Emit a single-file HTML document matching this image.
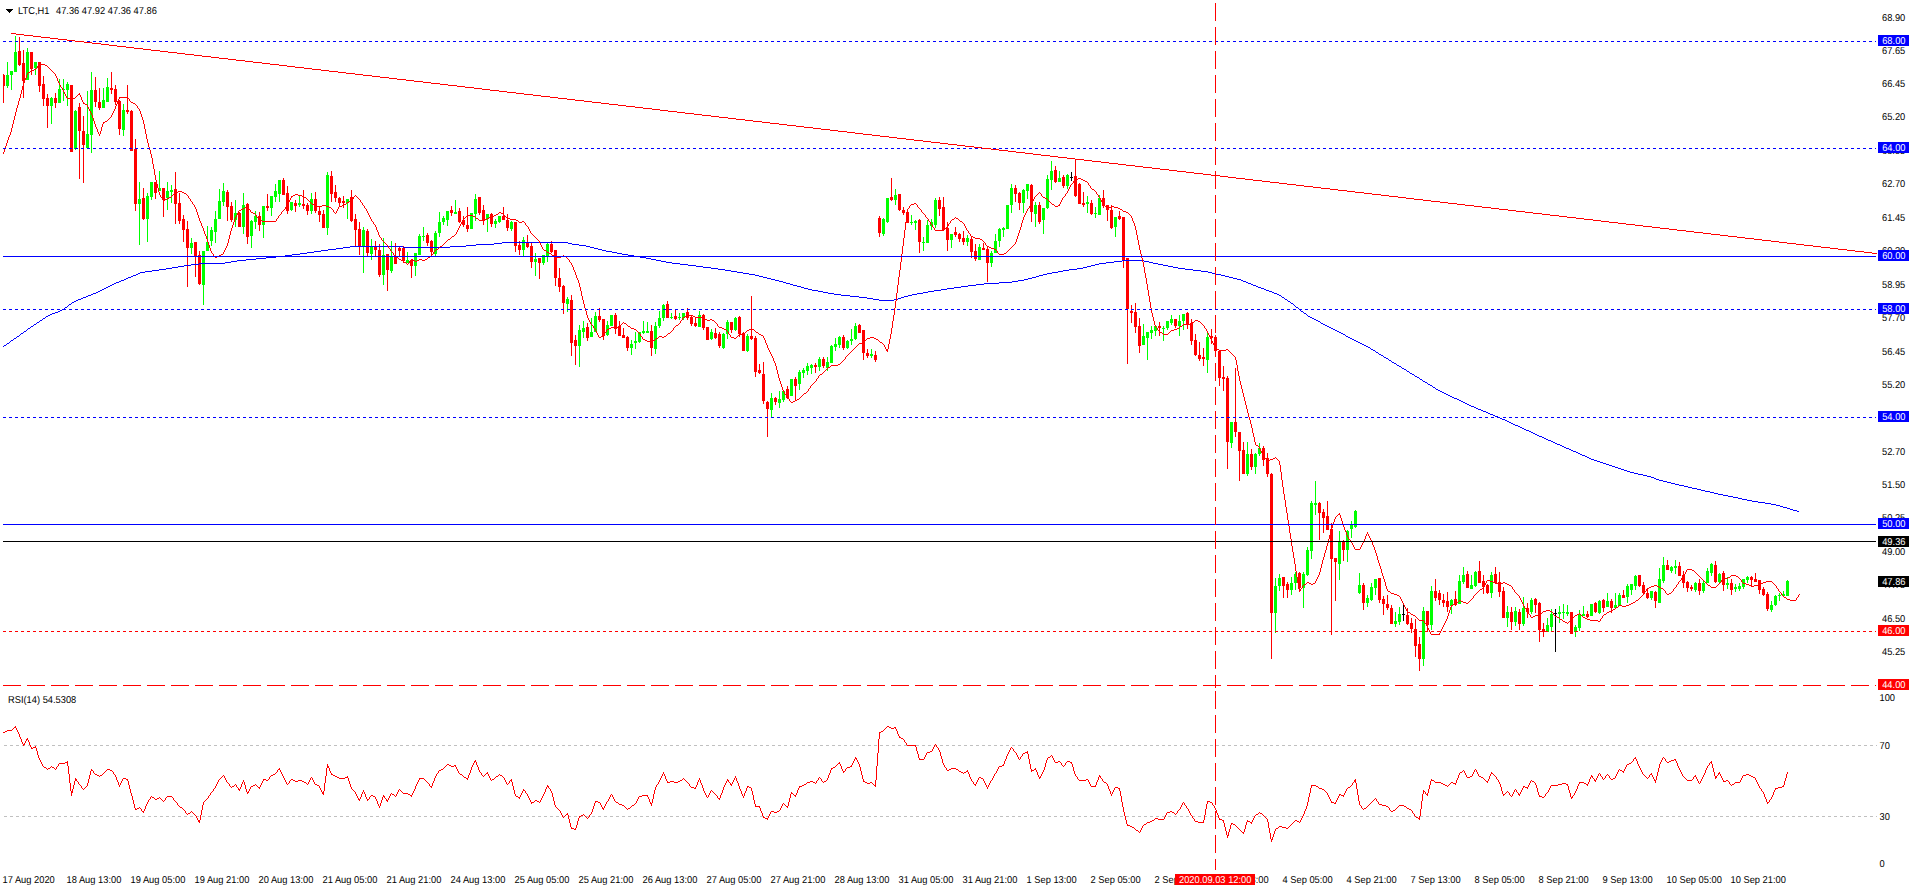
<!DOCTYPE html><html><head><meta charset="utf-8"><title>LTC,H1</title><style>
html,body{margin:0;padding:0;background:#fff;}
body{width:1916px;height:891px;overflow:hidden;position:relative;font-family:"Liberation Sans",sans-serif;}
svg{position:absolute;left:0;top:0;}
text{font-family:"Liberation Sans",sans-serif;font-size:10px;fill:#000;text-rendering:geometricPrecision;}
.w{fill:#fff;}
</style></head><body>
<svg width="1916" height="891" viewBox="0 0 1916 891">
<rect x="0" y="0" width="1916" height="891" fill="#fff"/>
<g shape-rendering="crispEdges">
<path d="M3 74h1V103h-1zM3 75h2V86h-2zM19 37h1V66h-1zM18 51h3V65h-3zM23 50h1V98h-1zM22 63h3V81h-3zM31 52h1V75h-1zM30 52h3V69h-3zM39 62h1V92h-1zM38 62h3V86h-3zM43 76h1V106h-1zM42 84h3V99h-3zM47 94h1V128h-1zM46 98h3V106h-3zM55 93h1V108h-1zM54 98h3V103h-3zM71 85h1V152h-1zM70 85h3V152h-3zM79 103h1V179h-1zM78 107h3V131h-3zM83 116h1V183h-1zM82 131h3V145h-3zM95 77h1V107h-1zM94 90h3V102h-3zM99 88h1V110h-1zM98 102h3V108h-3zM111 72h1V94h-1zM110 88h3V90h-3zM115 85h1V105h-1zM114 89h3V102h-3zM119 100h1V135h-1zM118 101h3V129h-3zM127 85h1V114h-1zM126 110h3V112h-3zM131 110h1V151h-1zM130 111h3V151h-3zM135 139h1V211h-1zM134 149h3V204h-3zM143 188h1V220h-1zM142 198h3V219h-3zM155 182h1V199h-1zM154 182h3V193h-3zM163 188h1V217h-1zM162 188h3V200h-3zM175 172h1V224h-1zM174 189h3V204h-3zM179 193h1V224h-1zM178 203h3V221h-3zM183 215h1V242h-1zM182 219h3V230h-3zM187 221h1V287h-1zM186 229h3V248h-3zM195 242h1V277h-1zM194 242h3V257h-3zM199 251h1V285h-1zM198 255h3V284h-3zM227 190h1V221h-1zM226 192h3V207h-3zM231 202h1V222h-1zM230 206h3V220h-3zM239 212h1V227h-1zM238 213h3V227h-3zM247 203h1V244h-1zM246 204h3V237h-3zM259 212h1V231h-1zM258 216h3V225h-3zM267 194h1V211h-1zM266 206h3V208h-3zM283 178h1V195h-1zM282 180h3V195h-3zM287 186h1V214h-1zM286 193h3V211h-3zM295 200h1V212h-1zM294 203h3V206h-3zM303 190h1V209h-1zM302 204h3V206h-3zM307 203h1V215h-1zM306 205h3V211h-3zM315 192h1V213h-1zM314 199h3V211h-3zM319 207h1V222h-1zM318 211h3V215h-3zM323 210h1V228h-1zM322 214h3V228h-3zM331 171h1V202h-1zM330 176h3V194h-3zM335 185h1V202h-1zM334 192h3V198h-3zM339 197h1V206h-1zM338 198h3V203h-3zM343 196h1V208h-1zM342 201h3V203h-3zM351 190h1V222h-1zM350 197h3V221h-3zM355 214h1V246h-1zM354 219h3V230h-3zM359 222h1V255h-1zM358 229h3V246h-3zM367 229h1V256h-1zM366 231h3V253h-3zM375 241h1V256h-1zM374 246h3V250h-3zM379 244h1V277h-1zM378 250h3V275h-3zM387 254h1V291h-1zM386 254h3V270h-3zM395 243h1V264h-1zM394 257h3V264h-3zM399 247h1V256h-1zM398 248h3V251h-3zM403 246h1V263h-1zM402 248h3V261h-3zM411 259h1V278h-1zM410 260h3V266h-3zM427 233h1V246h-1zM426 235h3V243h-3zM431 240h1V255h-1zM430 241h3V252h-3zM451 206h1V216h-1zM450 210h3V213h-3zM459 208h1V223h-1zM458 211h3V222h-3zM463 216h1V227h-1zM462 220h3V225h-3zM467 207h1V232h-1zM466 225h3V229h-3zM479 197h1V215h-1zM478 197h3V213h-3zM483 205h1V225h-1zM482 210h3V220h-3zM491 213h1V227h-1zM490 214h3V224h-3zM503 207h1V220h-1zM502 216h3V220h-3zM507 214h1V231h-1zM506 220h3V228h-3zM515 222h1V252h-1zM514 222h3V246h-3zM519 241h1V255h-1zM518 245h3V250h-3zM527 235h1V248h-1zM526 242h3V247h-3zM531 243h1V268h-1zM530 246h3V262h-3zM539 258h1V279h-1zM538 258h3V263h-3zM551 241h1V253h-1zM550 244h3V252h-3zM555 250h1V286h-1zM554 250h3V278h-3zM559 268h1V292h-1zM558 278h3V287h-3zM563 285h1V314h-1zM562 286h3V303h-3zM571 295h1V356h-1zM570 300h3V343h-3zM575 335h1V365h-1zM574 340h3V346h-3zM587 323h1V341h-1zM586 327h3V338h-3zM599 308h1V322h-1zM598 316h3V320h-3zM603 319h1V340h-1zM602 319h3V336h-3zM615 313h1V334h-1zM614 315h3V329h-3zM619 321h1V336h-1zM618 326h3V336h-3zM623 328h1V338h-1zM622 335h3V338h-3zM627 336h1V351h-1zM626 337h3V348h-3zM651 325h1V356h-1zM650 331h3V348h-3zM667 301h1V318h-1zM666 304h3V318h-3zM675 310h1V320h-1zM674 316h3V319h-3zM687 308h1V320h-1zM686 312h3V318h-3zM691 316h1V326h-1zM690 317h3V324h-3zM695 318h1V327h-1zM694 323h3V326h-3zM703 314h1V330h-1zM702 315h3V328h-3zM707 327h1V340h-1zM706 327h3V340h-3zM715 328h1V339h-1zM714 333h3V338h-3zM719 332h1V348h-1zM718 334h3V346h-3zM731 322h1V333h-1zM730 322h3V330h-3zM739 316h1V337h-1zM738 317h3V334h-3zM743 332h1V351h-1zM742 333h3V351h-3zM751 296h1V340h-1zM750 336h3V339h-3zM755 336h1V377h-1zM754 338h3V372h-3zM759 364h1V374h-1zM758 370h3V373h-3zM763 362h1V404h-1zM762 374h3V401h-3zM767 401h1V437h-1zM766 402h3V409h-3zM775 397h1V405h-1zM774 398h3V402h-3zM787 386h1V399h-1zM786 389h3V398h-3zM795 377h1V401h-1zM794 379h3V386h-3zM815 363h1V373h-1zM814 365h3V367h-3zM823 357h1V368h-1zM822 359h3V366h-3zM843 335h1V350h-1zM842 337h3V348h-3zM859 324h1V333h-1zM858 325h3V333h-3zM863 330h1V360h-1zM862 330h3V353h-3zM867 349h1V358h-1zM866 353h3V356h-3zM875 351h1V362h-1zM874 355h3V360h-3zM879 216h1V237h-1zM878 218h3V233h-3zM891 178h1V201h-1zM890 197h3V200h-3zM899 194h1V211h-1zM898 194h3V210h-3zM903 207h1V215h-1zM902 210h3V213h-3zM907 212h1V223h-1zM906 212h3V223h-3zM919 219h1V253h-1zM918 220h3V242h-3zM939 197h1V216h-1zM938 200h3V209h-3zM943 197h1V230h-1zM942 207h3V230h-3zM947 222h1V251h-1zM946 228h3V240h-3zM955 227h1V237h-1zM954 232h3V235h-3zM959 233h1V242h-1zM958 234h3V239h-3zM963 231h1V245h-1zM962 238h3V242h-3zM971 237h1V258h-1zM970 239h3V252h-3zM975 244h1V261h-1zM974 251h3V259h-3zM983 243h1V250h-1zM982 248h3V250h-3zM987 246h1V282h-1zM986 249h3V263h-3zM1015 185h1V202h-1zM1014 188h3V194h-3zM1019 192h1V210h-1zM1018 193h3V203h-3zM1031 184h1V222h-1zM1030 185h3V212h-3zM1039 202h1V224h-1zM1038 205h3V222h-3zM1055 166h1V183h-1zM1054 170h3V182h-3zM1063 175h1V188h-1zM1062 177h3V186h-3zM1075 159h1V197h-1zM1074 176h3V196h-3zM1079 183h1V204h-1zM1078 184h3V204h-3zM1083 192h1V207h-1zM1082 203h3V205h-3zM1091 200h1V215h-1zM1090 203h3V214h-3zM1103 190h1V208h-1zM1102 198h3V206h-3zM1107 205h1V221h-1zM1106 205h3V210h-3zM1111 205h1V229h-1zM1110 210h3V228h-3zM1119 211h1V220h-1zM1118 216h3V219h-3zM1123 217h1V268h-1zM1122 217h3V260h-3zM1127 258h1V364h-1zM1126 258h3V309h-3zM1131 305h1V323h-1zM1130 311h3V313h-3zM1135 303h1V333h-1zM1134 312h3V327h-3zM1139 318h1V353h-1zM1138 326h3V346h-3zM1159 322h1V336h-1zM1158 326h3V328h-3zM1175 319h1V328h-1zM1174 319h3V326h-3zM1187 312h1V329h-1zM1186 313h3V325h-3zM1191 319h1V345h-1zM1190 323h3V341h-3zM1195 334h1V356h-1zM1194 340h3V355h-3zM1199 342h1V361h-1zM1198 355h3V359h-3zM1203 348h1V366h-1zM1202 357h3V359h-3zM1211 329h1V344h-1zM1210 336h3V338h-3zM1215 335h1V357h-1zM1214 337h3V351h-3zM1219 350h1V386h-1zM1218 351h3V378h-3zM1223 366h1V391h-1zM1222 377h3V379h-3zM1227 376h1V469h-1zM1226 378h3V442h-3zM1235 368h1V437h-1zM1234 422h3V432h-3zM1239 432h1V481h-1zM1238 432h3V451h-3zM1243 442h1V474h-1zM1242 450h3V474h-3zM1251 449h1V470h-1zM1250 454h3V467h-3zM1263 446h1V466h-1zM1262 448h3V460h-3zM1267 453h1V477h-1zM1266 458h3V474h-3zM1271 473h1V659h-1zM1270 474h3V613h-3zM1283 577h1V598h-1zM1282 577h3V586h-3zM1287 582h1V598h-1zM1286 584h3V590h-3zM1299 572h1V591h-1zM1298 573h3V588h-3zM1319 502h1V540h-1zM1318 503h3V513h-3zM1323 509h1V533h-1zM1322 512h3V518h-3zM1327 501h1V530h-1zM1326 516h3V530h-3zM1331 523h1V635h-1zM1330 529h3V559h-3zM1335 558h1V601h-1zM1334 558h3V562h-3zM1343 540h1V561h-1zM1342 542h3V550h-3zM1363 583h1V610h-1zM1362 585h3V603h-3zM1379 578h1V603h-1zM1378 578h3V600h-3zM1383 596h1V615h-1zM1382 599h3V604h-3zM1387 595h1V610h-1zM1386 604h3V608h-3zM1391 605h1V624h-1zM1390 608h3V624h-3zM1407 608h1V625h-1zM1406 615h3V624h-3zM1411 618h1V633h-1zM1410 623h3V629h-3zM1415 619h1V657h-1zM1414 629h3V646h-3zM1419 637h1V671h-1zM1418 644h3V659h-3zM1427 611h1V632h-1zM1426 611h3V625h-3zM1435 579h1V601h-1zM1434 591h3V598h-3zM1439 590h1V605h-1zM1438 593h3V600h-3zM1443 594h1V607h-1zM1442 600h3V603h-3zM1447 592h1V612h-1zM1446 601h3V607h-3zM1455 591h1V606h-1zM1454 599h3V605h-3zM1467 571h1V588h-1zM1466 574h3V588h-3zM1479 561h1V583h-1zM1478 571h3V583h-3zM1483 575h1V594h-1zM1482 581h3V587h-3zM1487 584h1V594h-1zM1486 585h3V593h-3zM1495 567h1V584h-1zM1494 574h3V583h-3zM1499 572h1V597h-1zM1498 582h3V592h-3zM1503 587h1V618h-1zM1502 591h3V618h-3zM1511 607h1V630h-1zM1510 612h3V622h-3zM1519 609h1V630h-1zM1518 612h3V624h-3zM1527 603h1V618h-1zM1526 608h3V612h-3zM1535 598h1V613h-1zM1534 599h3V605h-3zM1539 602h1V642h-1zM1538 603h3V630h-3zM1543 623h1V637h-1zM1542 629h3V631.5h-3zM1571 612h1V634h-1zM1570 612h3V634h-3zM1587 611h1V618h-1zM1586 614h3V617h-3zM1595 602h1V613h-1zM1594 603h3V612h-3zM1603 599h1V612h-1zM1602 600h3V608h-3zM1611 599h1V613h-1zM1610 601h3V608h-3zM1623 590h1V598h-1zM1622 595h3V598h-3zM1639 575h1V587h-1zM1638 575h3V586h-3zM1643 582h1V594h-1zM1642 585h3V593h-3zM1647 589h1V599h-1zM1646 593h3V598h-3zM1655 591h1V608h-1zM1654 592h3V601h-3zM1667 560h1V570h-1zM1666 565h3V570h-3zM1679 562h1V576h-1zM1678 566h3V576h-3zM1683 571h1V588h-1zM1682 575h3V583h-3zM1687 581h1V592h-1zM1686 582h3V588h-3zM1691 585h1V591h-1zM1690 587h3V588.5h-3zM1699 579h1V595h-1zM1698 583h3V591h-3zM1715 561h1V583h-1zM1714 565h3V582h-3zM1723 571h1V591h-1zM1722 573h3V585h-3zM1731 579h1V595h-1zM1730 583h3V590h-3zM1751 576h1V587h-1zM1750 577h3V579.5h-3zM1755 573h1V582h-1zM1754 579h3V581.5h-3zM1759 580h1V594h-1zM1758 580h3V590h-3zM1763 587h1V596h-1zM1762 589h3V595h-3zM1767 592h1V611h-1zM1766 594h3V609h-3z" fill="#ff0000"/>
<path d="M7 62h1V88h-1zM6 75h3V86h-3zM11 71h1V90h-1zM10 71h3V75h-3zM15 36h1V72h-1zM14 52h3V72h-3zM27 48h1V80h-1zM26 52h3V80h-3zM35 62h1V75h-1zM34 62h3V68h-3zM51 97h1V124h-1zM50 98h3V106h-3zM59 79h1V103h-1zM58 89h3V103h-3zM63 79h1V101h-1zM62 89h3V90h-3zM67 82h1V106h-1zM66 84h3V90h-3zM75 110h1V150h-1zM74 111h3V149h-3zM87 91h1V149h-1zM86 134h3V148h-3zM91 72h1V153h-1zM90 90h3V135h-3zM103 88h1V108h-1zM102 100h3V108h-3zM107 78h1V102h-1zM106 87h3V102h-3zM123 104h1V136h-1zM122 110h3V130h-3zM139 182h1V245h-1zM138 199h3V204h-3zM147 193h1V242h-1zM146 196h3V219h-3zM151 182h1V200h-1zM150 182h3V197h-3zM159 171h1V191h-1zM158 188h3V191h-3zM167 182h1V210h-1zM166 191h3V198h-3zM171 185h1V203h-1zM170 190h3V192h-3zM191 238h1V254h-1zM190 243h3V248h-3zM203 251h1V305h-1zM202 251h3V285h-3zM207 226h1V251h-1zM206 242h3V251h-3zM211 227h1V246h-1zM210 230h3V241h-3zM215 211h1V243h-1zM214 219h3V232h-3zM219 189h1V219h-1zM218 201h3V219h-3zM223 183h1V206h-1zM222 191h3V202h-3zM235 200h1V227h-1zM234 213h3V220h-3zM243 193h1V234h-1zM242 205h3V227h-3zM251 220h1V248h-1zM250 221h3V236h-3zM255 211h1V229h-1zM254 216h3V222h-3zM263 206h1V238h-1zM262 206h3V225h-3zM271 196h1V216h-1zM270 196h3V208h-3zM275 184h1V202h-1zM274 191h3V197h-3zM279 180h1V202h-1zM278 180h3V194h-3zM291 202h1V211h-1zM290 202h3V210h-3zM299 195h1V207h-1zM298 203h3V205h-3zM311 193h1V214h-1zM310 199h3V211h-3zM327 172h1V235h-1zM326 175h3V228h-3zM347 199h1V219h-1zM346 199h3V203h-3zM363 227h1V273h-1zM362 230h3V246h-3zM371 239h1V260h-1zM370 246h3V254h-3zM383 238h1V285h-1zM382 255h3V275h-3zM391 241h1V273h-1zM390 257h3V271h-3zM407 252h1V263h-1zM406 260h3V263h-3zM415 253h1V276h-1zM414 253h3V266h-3zM419 234h1V255h-1zM418 236h3V255h-3zM423 227h1V241h-1zM422 236h3V237h-3zM435 231h1V256h-1zM434 233h3V254h-3zM439 212h1V237h-1zM438 222h3V233h-3zM443 216h1V225h-1zM442 218h3V222h-3zM447 211h1V226h-1zM446 211h3V220h-3zM455 200h1V214h-1zM454 212h3V214h-3zM471 213h1V229h-1zM470 213h3V229h-3zM475 194h1V221h-1zM474 199h3V214h-3zM487 214h1V232h-1zM486 214h3V219h-3zM495 219h1V228h-1zM494 221h3V224h-3zM499 216h1V223h-1zM498 216h3V222h-3zM511 221h1V231h-1zM510 222h3V229h-3zM523 237h1V256h-1zM522 240h3V250h-3zM535 253h1V276h-1zM534 259h3V262h-3zM543 255h1V265h-1zM542 255h3V263h-3zM547 243h1V262h-1zM546 244h3V256h-3zM567 297h1V312h-1zM566 299h3V304h-3zM579 325h1V367h-1zM578 330h3V346h-3zM583 321h1V338h-1zM582 328h3V332h-3zM591 318h1V337h-1zM590 332h3V337h-3zM595 312h1V332h-1zM594 316h3V332h-3zM607 321h1V336h-1zM606 325h3V335h-3zM611 315h1V326h-1zM610 315h3V326h-3zM631 340h1V355h-1zM630 344h3V348h-3zM635 332h1V349h-1zM634 341h3V343h-3zM639 332h1V343h-1zM638 332h3V342h-3zM643 321h1V334h-1zM642 331h3V333h-3zM647 322h1V333h-1zM646 331h3V333h-3zM655 322h1V354h-1zM654 326h3V349h-3zM659 311h1V328h-1zM658 318h3V326h-3zM663 304h1V321h-1zM662 305h3V318h-3zM671 313h1V319h-1zM670 317h3V318h-3zM679 313h1V320h-1zM678 317h3V318h-3zM683 313h1V320h-1zM682 313h3V318h-3zM699 311h1V327h-1zM698 315h3V327h-3zM711 329h1V340h-1zM710 332h3V339h-3zM723 333h1V349h-1zM722 334h3V348h-3zM727 320h1V339h-1zM726 322h3V334h-3zM735 317h1V331h-1zM734 318h3V330h-3zM747 334h1V352h-1zM746 336h3V351h-3zM771 393h1V417h-1zM770 398h3V410h-3zM779 391h1V408h-1zM778 399h3V403h-3zM783 390h1V402h-1zM782 391h3V400h-3zM791 379h1V396h-1zM790 379h3V396h-3zM799 370h1V390h-1zM798 372h3V384h-3zM803 368h1V378h-1zM802 370h3V373h-3zM807 363h1V375h-1zM806 366h3V371h-3zM811 364h1V374h-1zM810 365h3V368h-3zM819 357h1V371h-1zM818 359h3V367h-3zM827 357h1V371h-1zM826 362h3V368h-3zM831 345h1V363h-1zM830 346h3V363h-3zM835 338h1V351h-1zM834 344h3V347h-3zM839 336h1V348h-1zM838 337h3V345h-3zM847 340h1V349h-1zM846 341h3V348h-3zM851 329h1V345h-1zM850 339h3V341h-3zM855 323h1V340h-1zM854 326h3V339h-3zM871 349h1V358h-1zM870 354h3V356h-3zM883 218h1V236h-1zM882 219h3V234h-3zM887 198h1V223h-1zM886 198h3V222h-3zM895 189h1V205h-1zM894 195h3V200h-3zM911 215h1V225h-1zM910 222h3V223h-3zM915 220h1V230h-1zM914 221h3V223h-3zM923 237h1V251h-1zM922 242h3V243h-3zM927 220h1V243h-1zM926 225h3V243h-3zM931 219h1V230h-1zM930 222h3V226h-3zM935 198h1V228h-1zM934 200h3V225h-3zM951 234h1V248h-1zM950 234h3V240h-3zM967 235h1V246h-1zM966 238h3V242h-3zM979 244h1V260h-1zM978 247h3V260h-3zM991 251h1V267h-1zM990 253h3V263h-3zM995 234h1V253h-1zM994 241h3V253h-3zM999 228h1V247h-1zM998 229h3V241h-3zM1003 227h1V237h-1zM1002 228h3V230h-3zM1007 205h1V229h-1zM1006 205h3V229h-3zM1011 184h1V213h-1zM1010 188h3V205h-3zM1023 189h1V213h-1zM1022 190h3V203h-3zM1027 184h1V199h-1zM1026 184h3V191h-3zM1035 202h1V227h-1zM1034 205h3V214h-3zM1043 208h1V234h-1zM1042 208h3V220h-3zM1047 175h1V209h-1zM1046 179h3V208h-3zM1051 161h1V190h-1zM1050 171h3V180h-3zM1059 171h1V182h-1zM1058 178h3V182h-3zM1067 174h1V189h-1zM1066 175h3V186h-3zM1087 196h1V213h-1zM1086 202h3V204h-3zM1095 207h1V218h-1zM1094 213h3V214h-3zM1099 195h1V215h-1zM1098 198h3V215h-3zM1115 217h1V237h-1zM1114 217h3V227h-3zM1143 324h1V345h-1zM1142 336h3V345h-3zM1147 332h1V360h-1zM1146 332h3V338h-3zM1151 326h1V339h-1zM1150 330h3V333h-3zM1155 325h1V336h-1zM1154 326h3V331h-3zM1163 326h1V341h-1zM1162 328h3V329h-3zM1167 321h1V330h-1zM1166 321h3V328h-3zM1171 315h1V325h-1zM1170 319h3V323h-3zM1179 315h1V336h-1zM1178 321h3V326h-3zM1183 314h1V330h-1zM1182 314h3V321h-3zM1207 333h1V373h-1zM1206 337h3V360h-3zM1231 422h1V448h-1zM1230 422h3V443h-3zM1247 442h1V476h-1zM1246 454h3V474h-3zM1255 453h1V474h-1zM1254 454h3V467h-3zM1259 443h1V456h-1zM1258 448h3V454h-3zM1275 578h1V633h-1zM1274 586h3V613h-3zM1279 574h1V591h-1zM1278 578h3V586h-3zM1291 577h1V595h-1zM1290 583h3V590h-3zM1295 572h1V590h-1zM1294 574h3V583h-3zM1303 572h1V608h-1zM1302 574h3V588h-3zM1307 547h1V576h-1zM1306 550h3V575h-3zM1311 501h1V559h-1zM1310 503h3V551h-3zM1315 481h1V515h-1zM1314 503h3V505h-3zM1339 531h1V580h-1zM1338 542h3V564h-3zM1347 530h1V562h-1zM1346 531h3V550h-3zM1351 521h1V538h-1zM1350 524h3V529h-3zM1355 510h1V528h-1zM1354 511h3V527h-3zM1359 573h1V594h-1zM1358 585h3V593h-3zM1367 595h1V607h-1zM1366 598h3V603h-3zM1371 583h1V601h-1zM1370 587h3V600h-3zM1375 579h1V595h-1zM1374 579h3V588h-3zM1395 612h1V627h-1zM1394 621h3V624h-3zM1399 607h1V625h-1zM1398 614h3V622h-3zM1423 607h1V666h-1zM1422 611h3V659h-3zM1431 586h1V630h-1zM1430 591h3V625h-3zM1451 599h1V614h-1zM1450 600h3V606h-3zM1459 575h1V604h-1zM1458 581h3V604h-3zM1463 567h1V584h-1zM1462 575h3V582h-3zM1471 575h1V589h-1zM1470 585h3V589h-3zM1475 571h1V587h-1zM1474 572h3V586h-3zM1491 572h1V598h-1zM1490 575h3V593h-3zM1507 606h1V627h-1zM1506 612h3V618h-3zM1515 607h1V626h-1zM1514 611h3V622h-3zM1523 597h1V626h-1zM1522 608h3V624h-3zM1531 598h1V614h-1zM1530 600h3V612h-3zM1547 618h1V632h-1zM1546 625h3V631.5h-3zM1551 609h1V632h-1zM1550 614h3V627h-3zM1559 606h1V623h-1zM1558 612h3V614h-3zM1563 604h1V619h-1zM1562 611.5h3V613h-3zM1567 605h1V616h-1zM1566 612h3V614h-3zM1575 625h1V637h-1zM1574 627h3V632h-3zM1579 610h1V631h-1zM1578 614h3V628h-3zM1583 606h1V616h-1zM1582 614h3V615.5h-3zM1591 604h1V616h-1zM1590 604h3V616h-3zM1599 600h1V614h-1zM1598 601h3V613h-3zM1607 593h1V607h-1zM1606 601h3V607h-3zM1615 593h1V608h-1zM1614 605h3V608h-3zM1619 593h1V606h-1zM1618 595h3V606h-3zM1627 584h1V603h-1zM1626 586h3V597h-3zM1631 584h1V595h-1zM1630 584h3V590h-3zM1635 575h1V590h-1zM1634 576h3V586h-3zM1651 591h1V600h-1zM1650 591h3V598h-3zM1659 568h1V603h-1zM1658 579h3V603h-3zM1663 557h1V583h-1zM1662 565h3V581h-3zM1671 566h1V573h-1zM1670 567h3V571h-3zM1675 560h1V574h-1zM1674 566h3V567.5h-3zM1695 582h1V592h-1zM1694 583h3V590h-3zM1703 581h1V593h-1zM1702 583h3V591h-3zM1707 568h1V583h-1zM1706 571h3V583h-3zM1711 563h1V576h-1zM1710 564h3V573h-3zM1719 573h1V583h-1zM1718 574h3V582h-3zM1727 577h1V589h-1zM1726 583h3V585h-3zM1735 584h1V592h-1zM1734 587h3V589h-3zM1739 583h1V591h-1zM1738 586h3V589h-3zM1743 579h1V589h-1zM1742 579h3V587h-3zM1747 576h1V583h-1zM1746 577h3V580h-3zM1771 601h1V612h-1zM1770 605h3V610h-3zM1775 595h1V606h-1zM1774 596h3V605h-3zM1779 593h1V601h-1zM1778 594.5h3V596h-3zM1783 591h1V597h-1zM1782 594h3V595.5h-3zM1787 580h1V596h-1zM1786 581h3V596h-3z" fill="#00ff00"/>
<path d="M1071 172h1V181h-1zM1070 176.5h3v1h-3zM1403 604h1V621h-1zM1402 614h3v1h-3zM1555 609h1V652h-1zM1554 613h3v1h-3z" fill="#000"/>
</g>
<path d="M502 242h66v1h-66zM494 243h8v1h-8zM568 243h4v1h-4zM476 244h18v1h-18zM572 244h7v1h-7zM466 245h10v1h-10zM579 245h7v1h-7zM350 246h53v1h-53zM450 246h16v1h-16zM586 246h4v1h-4zM343 247h7v1h-7zM403 247h47v1h-47zM590 247h4v1h-4zM336 248h7v1h-7zM594 248h4v1h-4zM328 249h8v1h-8zM598 249h4v1h-4zM321 250h7v1h-7zM602 250h4v1h-4zM314 251h7v1h-7zM606 251h6v1h-6zM307 252h7v1h-7zM612 252h5v1h-5zM300 253h7v1h-7zM617 253h5v1h-5zM292 254h8v1h-8zM622 254h6v1h-6zM285 255h7v1h-7zM628 255h6v1h-6zM276 256h9v1h-9zM634 256h6v1h-6zM266 257h10v1h-10zM640 257h6v1h-6zM256 258h10v1h-10zM646 258h5v1h-5zM246 259h10v1h-10zM651 259h5v1h-5zM237 260h9v1h-9zM656 260h5v1h-5zM1122 260h22v1h-22zM231 261h6v1h-6zM661 261h5v1h-5zM1114 261h8v1h-8zM1144 261h5v1h-5zM225 262h6v1h-6zM666 262h6v1h-6zM1106 262h8v1h-8zM1149 262h4v1h-4zM199 263h26v1h-26zM672 263h8v1h-8zM1099 263h7v1h-7zM1153 263h5v1h-5zM191 264h8v1h-8zM680 264h8v1h-8zM1095 264h4v1h-4zM1158 264h5v1h-5zM184 265h7v1h-7zM688 265h8v1h-8zM1091 265h4v1h-4zM1163 265h5v1h-5zM178 266h6v1h-6zM696 266h7v1h-7zM1087 266h4v1h-4zM1168 266h5v1h-5zM172 267h6v1h-6zM703 267h8v1h-8zM1083 267h4v1h-4zM1173 267h5v1h-5zM166 268h6v1h-6zM711 268h7v1h-7zM1077 268h6v1h-6zM1178 268h7v1h-7zM159 269h7v1h-7zM718 269h7v1h-7zM1069 269h8v1h-8zM1185 269h8v1h-8zM152 270h7v1h-7zM725 270h6v1h-6zM1063 270h6v1h-6zM1193 270h8v1h-8zM145 271h7v1h-7zM731 271h6v1h-6zM1058 271h5v1h-5zM1201 271h7v1h-7zM140 272h5v1h-5zM737 272h6v1h-6zM1052 272h6v1h-6zM1208 272h4v1h-4zM138 273h2v1h-2zM743 273h6v1h-6zM1047 273h5v1h-5zM1212 273h4v1h-4zM136 274h2v1h-2zM749 274h6v1h-6zM1043 274h4v1h-4zM1216 274h5v1h-5zM133 275h3v1h-3zM755 275h4v1h-4zM1039 275h4v1h-4zM1221 275h4v1h-4zM131 276h2v1h-2zM759 276h4v1h-4zM1036 276h3v1h-3zM1225 276h4v1h-4zM128 277h3v1h-3zM763 277h4v1h-4zM1032 277h4v1h-4zM1229 277h4v1h-4zM126 278h2v1h-2zM767 278h4v1h-4zM1028 278h4v1h-4zM1233 278h4v1h-4zM124 279h2v1h-2zM771 279h4v1h-4zM1024 279h4v1h-4zM1237 279h4v1h-4zM121 280h3v1h-3zM775 280h4v1h-4zM1018 280h6v1h-6zM1241 280h2v1h-2zM119 281h2v1h-2zM779 281h4v1h-4zM1012 281h6v1h-6zM1243 281h3v1h-3zM116 282h3v1h-3zM783 282h3v1h-3zM999 282h13v1h-13zM1246 282h2v1h-2zM114 283h2v1h-2zM786 283h4v1h-4zM984 283h15v1h-15zM1248 283h3v1h-3zM112 284h2v1h-2zM790 284h3v1h-3zM976 284h8v1h-8zM1251 284h2v1h-2zM110 285h2v1h-2zM793 285h4v1h-4zM968 285h8v1h-8zM1253 285h3v1h-3zM108 286h2v1h-2zM797 286h4v1h-4zM961 286h7v1h-7zM1256 286h2v1h-2zM106 287h2v1h-2zM801 287h3v1h-3zM954 287h7v1h-7zM1258 287h3v1h-3zM104 288h2v1h-2zM804 288h4v1h-4zM947 288h7v1h-7zM1261 288h3v1h-3zM102 289h2v1h-2zM808 289h4v1h-4zM941 289h6v1h-6zM1264 289h2v1h-2zM100 290h2v1h-2zM812 290h6v1h-6zM934 290h7v1h-7zM1266 290h3v1h-3zM98 291h2v1h-2zM818 291h5v1h-5zM928 291h6v1h-6zM1269 291h3v1h-3zM96 292h2v1h-2zM823 292h5v1h-5zM923 292h5v1h-5zM1272 292h2v1h-2zM93 293h3v1h-3zM828 293h6v1h-6zM917 293h6v1h-6zM1274 293h3v1h-3zM91 294h2v1h-2zM834 294h7v1h-7zM912 294h5v1h-5zM1277 294h2v1h-2zM88 295h3v1h-3zM841 295h9v1h-9zM908 295h4v1h-4zM1279 295h2v1h-2zM86 296h2v1h-2zM850 296h9v1h-9zM904 296h4v1h-4zM1281 296h1v1h-1zM83 297h3v1h-3zM859 297h8v1h-8zM901 297h3v1h-3zM1282 297h2v1h-2zM81 298h2v1h-2zM867 298h6v1h-6zM898 298h3v1h-3zM1284 298h1v1h-1zM78 299h3v1h-3zM873 299h6v1h-6zM894 299h4v1h-4zM1285 299h2v1h-2zM76 300h2v1h-2zM879 300h15v1h-15zM1287 300h1v1h-1zM74 301h2v1h-2zM1288 301h2v1h-2zM72 302h2v1h-2zM1290 302h1v1h-1zM71 303h1v1h-1zM1291 303h2v1h-2zM69 304h2v1h-2zM1293 304h1v1h-1zM68 305h1v1h-1zM1294 305h1v1h-1zM67 306h1v1h-1zM1295 306h1v1h-1zM65 307h2v1h-2zM1296 307h2v1h-2zM64 308h1v1h-1zM1298 308h1v1h-1zM62 309h2v1h-2zM1299 309h1v1h-1zM60 310h2v1h-2zM1300 310h1v1h-1zM58 311h2v1h-2zM1301 311h2v1h-2zM55 312h3v1h-3zM1303 312h1v1h-1zM52 313h3v1h-3zM1304 313h2v1h-2zM50 314h2v1h-2zM1306 314h1v1h-1zM48 315h2v1h-2zM1307 315h1v1h-1zM46 316h2v1h-2zM1308 316h2v1h-2zM45 317h1v1h-1zM1310 317h2v1h-2zM43 318h2v1h-2zM1312 318h2v1h-2zM42 319h1v1h-1zM1314 319h2v1h-2zM40 320h2v1h-2zM1316 320h2v1h-2zM39 321h1v1h-1zM1318 321h2v1h-2zM37 322h2v1h-2zM1320 322h1v1h-1zM36 323h1v1h-1zM1321 323h2v1h-2zM34 324h2v1h-2zM1323 324h2v1h-2zM33 325h1v1h-1zM1325 325h2v1h-2zM31 326h2v1h-2zM1327 326h2v1h-2zM30 327h1v1h-1zM1329 327h2v1h-2zM28 328h2v1h-2zM1331 328h2v1h-2zM27 329h1v1h-1zM1333 329h2v1h-2zM26 330h1v1h-1zM1335 330h2v1h-2zM24 331h2v1h-2zM1337 331h2v1h-2zM23 332h1v1h-1zM1339 332h2v1h-2zM21 333h2v1h-2zM1341 333h2v1h-2zM20 334h1v1h-1zM1343 334h2v1h-2zM19 335h1v1h-1zM1345 335h1v1h-1zM17 336h2v1h-2zM1346 336h2v1h-2zM16 337h1v1h-1zM1348 337h2v1h-2zM14 338h2v1h-2zM1350 338h2v1h-2zM13 339h1v1h-1zM1352 339h2v1h-2zM11 340h2v1h-2zM1354 340h2v1h-2zM10 341h1v1h-1zM1356 341h2v1h-2zM9 342h1v1h-1zM1358 342h2v1h-2zM7 343h2v1h-2zM1360 343h2v1h-2zM6 344h1v1h-1zM1362 344h2v1h-2zM4 345h2v1h-2zM1364 345h2v1h-2zM3 346h1v1h-1zM1366 346h2v1h-2zM1368 347h2v1h-2zM1370 348h1v1h-1zM1371 349h2v1h-2zM1373 350h2v1h-2zM1375 351h1v1h-1zM1376 352h2v1h-2zM1378 353h1v1h-1zM1379 354h2v1h-2zM1381 355h2v1h-2zM1383 356h1v1h-1zM1384 357h2v1h-2zM1386 358h2v1h-2zM1388 359h1v1h-1zM1389 360h2v1h-2zM1391 361h1v1h-1zM1392 362h2v1h-2zM1394 363h2v1h-2zM1396 364h1v1h-1zM1397 365h2v1h-2zM1399 366h2v1h-2zM1401 367h1v1h-1zM1402 368h2v1h-2zM1404 369h2v1h-2zM1406 370h1v1h-1zM1407 371h2v1h-2zM1409 372h1v1h-1zM1410 373h2v1h-2zM1412 374h2v1h-2zM1414 375h1v1h-1zM1415 376h2v1h-2zM1417 377h2v1h-2zM1419 378h1v1h-1zM1420 379h2v1h-2zM1422 380h1v1h-1zM1423 381h2v1h-2zM1425 382h2v1h-2zM1427 383h1v1h-1zM1428 384h2v1h-2zM1430 385h2v1h-2zM1432 386h1v1h-1zM1433 387h2v1h-2zM1435 388h1v1h-1zM1436 389h2v1h-2zM1438 390h2v1h-2zM1440 391h2v1h-2zM1442 392h2v1h-2zM1444 393h2v1h-2zM1446 394h2v1h-2zM1448 395h2v1h-2zM1450 396h2v1h-2zM1452 397h2v1h-2zM1454 398h3v1h-3zM1457 399h2v1h-2zM1459 400h2v1h-2zM1461 401h2v1h-2zM1463 402h2v1h-2zM1465 403h2v1h-2zM1467 404h2v1h-2zM1469 405h2v1h-2zM1471 406h3v1h-3zM1474 407h2v1h-2zM1476 408h2v1h-2zM1478 409h3v1h-3zM1481 410h2v1h-2zM1483 411h3v1h-3zM1486 412h2v1h-2zM1488 413h2v1h-2zM1490 414h3v1h-3zM1493 415h2v1h-2zM1495 416h3v1h-3zM1498 417h2v1h-2zM1500 418h2v1h-2zM1502 419h3v1h-3zM1505 420h2v1h-2zM1507 421h2v1h-2zM1509 422h2v1h-2zM1511 423h2v1h-2zM1513 424h2v1h-2zM1515 425h3v1h-3zM1518 426h2v1h-2zM1520 427h2v1h-2zM1522 428h2v1h-2zM1524 429h2v1h-2zM1526 430h3v1h-3zM1529 431h2v1h-2zM1531 432h2v1h-2zM1533 433h2v1h-2zM1535 434h2v1h-2zM1537 435h2v1h-2zM1539 436h3v1h-3zM1542 437h2v1h-2zM1544 438h2v1h-2zM1546 439h2v1h-2zM1548 440h3v1h-3zM1551 441h2v1h-2zM1553 442h2v1h-2zM1555 443h2v1h-2zM1557 444h3v1h-3zM1560 445h2v1h-2zM1562 446h2v1h-2zM1564 447h2v1h-2zM1566 448h3v1h-3zM1569 449h2v1h-2zM1571 450h2v1h-2zM1573 451h3v1h-3zM1576 452h2v1h-2zM1578 453h2v1h-2zM1580 454h2v1h-2zM1582 455h3v1h-3zM1585 456h2v1h-2zM1587 457h2v1h-2zM1589 458h2v1h-2zM1591 459h3v1h-3zM1594 460h3v1h-3zM1597 461h3v1h-3zM1600 462h3v1h-3zM1603 463h3v1h-3zM1606 464h3v1h-3zM1609 465h3v1h-3zM1612 466h3v1h-3zM1615 467h3v1h-3zM1618 468h3v1h-3zM1621 469h3v1h-3zM1624 470h3v1h-3zM1627 471h3v1h-3zM1630 472h4v1h-4zM1634 473h4v1h-4zM1638 474h5v1h-5zM1643 475h4v1h-4zM1647 476h4v1h-4zM1651 477h3v1h-3zM1654 478h2v1h-2zM1656 479h3v1h-3zM1659 480h4v1h-4zM1663 481h4v1h-4zM1667 482h4v1h-4zM1671 483h4v1h-4zM1675 484h4v1h-4zM1679 485h5v1h-5zM1684 486h4v1h-4zM1688 487h4v1h-4zM1692 488h5v1h-5zM1697 489h4v1h-4zM1701 490h4v1h-4zM1705 491h5v1h-5zM1710 492h4v1h-4zM1714 493h4v1h-4zM1718 494h5v1h-5zM1723 495h5v1h-5zM1728 496h5v1h-5zM1733 497h5v1h-5zM1738 498h4v1h-4zM1742 499h5v1h-5zM1747 500h5v1h-5zM1752 501h6v1h-6zM1758 502h7v1h-7zM1765 503h6v1h-6zM1771 504h5v1h-5zM1776 505h4v1h-4zM1780 506h3v1h-3zM1783 507h4v1h-4zM1787 508h3v1h-3zM1790 509h3v1h-3zM1793 510h4v1h-4zM1797 511h2v1h-2z" fill="#0000ff" shape-rendering="crispEdges"/>
<path d="M3 152h1v2h-1zM4 149h1v3h-1zM5 146h1v3h-1zM6 143h1v3h-1zM7 140h1v3h-1zM8 137h1v3h-1zM9 135h1v2h-1zM10 132h1v3h-1zM11 128h1v4h-1zM12 124h1v4h-1zM13 120h1v4h-1zM14 116h1v4h-1zM15 112h1v4h-1zM16 108h1v4h-1zM17 105h1v3h-1zM18 101h1v4h-1zM19 98h1v3h-1zM20 94h1v4h-1zM21 90h1v4h-1zM22 86h1v4h-1zM23 83h1v3h-1zM24 80h1v3h-1zM25 78h1v2h-1zM26 75h1v3h-1zM27 73h1v2h-1zM37 66h1v2h-1zM55 74h1v2h-1zM56 76h1v2h-1zM57 78h1v3h-1zM58 81h1v2h-1zM59 83h1v2h-1zM60 85h1v2h-1zM62 88h1v2h-1zM63 90h1v2h-1zM64 92h1v2h-1zM65 94h1v2h-1zM66 96h1v2h-1zM79 93h1v2h-1zM80 95h1v2h-1zM81 97h1v3h-1zM82 100h1v2h-1zM83 102h1v2h-1zM87 105h1v2h-1zM88 107h1v2h-1zM89 109h1v2h-1zM90 111h1v2h-1zM91 113h1v2h-1zM92 115h1v3h-1zM93 118h1v3h-1zM94 121h1v3h-1zM95 124h1v3h-1zM96 127h1v2h-1zM97 129h1v3h-1zM98 132h1v2h-1zM99 134h1v2h-1zM100 131h1v3h-1zM101 127h1v4h-1zM102 124h1v3h-1zM103 122h1v2h-1zM111 115h1v2h-1zM112 113h1v2h-1zM113 111h1v2h-1zM114 109h1v2h-1zM115 106h1v3h-1zM116 104h1v2h-1zM117 101h1v3h-1zM118 99h1v2h-1zM119 97h1v2h-1zM129 99h1v2h-1zM137 106h1v2h-1zM139 109h1v2h-1zM140 111h1v3h-1zM141 114h1v3h-1zM142 117h1v3h-1zM143 120h1v4h-1zM144 124h1v5h-1zM145 129h1v5h-1zM146 134h1v5h-1zM147 139h1v4h-1zM148 143h1v4h-1zM149 147h1v3h-1zM150 150h1v4h-1zM151 154h1v4h-1zM152 158h1v6h-1zM153 164h1v5h-1zM154 169h1v6h-1zM155 175h1v5h-1zM156 180h1v4h-1zM157 184h1v4h-1zM158 188h1v4h-1zM159 192h1v3h-1zM160 195h1v2h-1zM162 198h1v2h-1zM188 196h1v2h-1zM190 199h1v2h-1zM192 202h1v2h-1zM194 205h1v2h-1zM195 207h1v2h-1zM196 209h1v3h-1zM197 212h1v3h-1zM198 215h1v3h-1zM199 218h1v3h-1zM200 221h1v2h-1zM201 223h1v3h-1zM202 226h1v2h-1zM203 228h1v3h-1zM204 231h1v3h-1zM205 234h1v2h-1zM206 236h1v3h-1zM207 239h1v3h-1zM208 242h1v3h-1zM209 245h1v3h-1zM210 248h1v3h-1zM211 251h1v2h-1zM213 254h1v2h-1zM223 252h1v2h-1zM224 250h1v2h-1zM225 248h1v2h-1zM226 246h1v2h-1zM227 243h1v3h-1zM228 239h1v4h-1zM229 235h1v4h-1zM230 231h1v4h-1zM231 228h1v3h-1zM232 225h1v3h-1zM233 222h1v3h-1zM234 219h1v3h-1zM235 217h1v2h-1zM236 215h1v2h-1zM237 213h1v2h-1zM238 211h1v2h-1zM248 207h1v2h-1zM250 210h1v2h-1zM256 215h1v2h-1zM258 218h1v2h-1zM276 219h1v2h-1zM278 216h1v2h-1zM281 212h1v2h-1zM285 207h1v2h-1zM287 204h1v2h-1zM288 202h1v2h-1zM289 200h1v2h-1zM290 198h1v2h-1zM291 196h1v2h-1zM333 210h1v2h-1zM336 211h1v2h-1zM337 209h1v2h-1zM338 207h1v2h-1zM353 197h1v2h-1zM360 200h1v2h-1zM362 203h1v2h-1zM364 206h1v2h-1zM366 209h1v2h-1zM367 211h1v2h-1zM368 213h1v2h-1zM369 215h1v2h-1zM370 217h1v2h-1zM371 219h1v2h-1zM373 222h1v2h-1zM375 225h1v2h-1zM376 227h1v3h-1zM377 230h1v2h-1zM378 232h1v3h-1zM379 235h1v2h-1zM381 238h1v2h-1zM388 246h1v2h-1zM390 249h1v2h-1zM393 253h1v2h-1zM409 261h1v2h-1zM433 252h1v2h-1zM456 232h1v2h-1zM457 230h1v2h-1zM458 228h1v2h-1zM459 226h1v2h-1zM460 224h1v2h-1zM461 222h1v2h-1zM462 220h1v2h-1zM525 223h1v2h-1zM528 227h1v2h-1zM529 229h1v2h-1zM530 231h1v2h-1zM539 241h1v2h-1zM540 243h1v2h-1zM541 245h1v2h-1zM542 247h1v2h-1zM569 260h1v2h-1zM571 263h1v2h-1zM572 265h1v2h-1zM573 267h1v3h-1zM574 270h1v2h-1zM575 272h1v3h-1zM576 275h1v3h-1zM577 278h1v2h-1zM578 280h1v3h-1zM579 283h1v4h-1zM580 287h1v4h-1zM581 291h1v5h-1zM582 296h1v4h-1zM583 300h1v4h-1zM584 304h1v4h-1zM585 308h1v3h-1zM586 311h1v4h-1zM587 315h1v3h-1zM588 318h1v2h-1zM589 320h1v2h-1zM590 322h1v2h-1zM593 326h1v2h-1zM595 329h1v2h-1zM596 331h1v2h-1zM597 333h1v2h-1zM598 335h1v2h-1zM604 333h1v2h-1zM606 330h1v2h-1zM640 334h1v2h-1zM642 337h1v2h-1zM673 328h1v2h-1zM680 321h1v2h-1zM682 318h1v2h-1zM717 324h1v2h-1zM728 332h1v2h-1zM730 335h1v2h-1zM763 336h1v2h-1zM764 338h1v2h-1zM765 340h1v3h-1zM766 343h1v2h-1zM767 345h1v3h-1zM768 348h1v2h-1zM769 350h1v2h-1zM770 352h1v2h-1zM771 354h1v2h-1zM772 356h1v2h-1zM773 358h1v3h-1zM774 361h1v2h-1zM775 363h1v3h-1zM776 366h1v4h-1zM777 370h1v4h-1zM778 374h1v4h-1zM779 378h1v3h-1zM780 381h1v3h-1zM781 384h1v3h-1zM782 387h1v3h-1zM783 390h1v2h-1zM784 392h1v2h-1zM786 395h1v2h-1zM789 399h1v2h-1zM808 389h1v2h-1zM810 386h1v2h-1zM816 379h1v2h-1zM818 376h1v2h-1zM845 357h1v2h-1zM884 345h1v2h-1zM885 347h1v2h-1zM886 349h1v2h-1zM887 349h1v3h-1zM888 344h1v5h-1zM889 339h1v5h-1zM890 334h1v5h-1zM891 328h1v6h-1zM892 321h1v7h-1zM893 315h1v6h-1zM894 308h1v7h-1zM895 301h1v7h-1zM896 293h1v8h-1zM897 285h1v8h-1zM898 277h1v8h-1zM899 270h1v7h-1zM900 262h1v8h-1zM901 254h1v8h-1zM902 246h1v8h-1zM903 238h1v8h-1zM904 230h1v8h-1zM905 222h1v8h-1zM906 214h1v8h-1zM907 209h1v5h-1zM909 206h1v2h-1zM917 205h1v2h-1zM921 210h1v2h-1zM925 215h1v2h-1zM928 219h1v2h-1zM930 222h1v2h-1zM932 225h1v2h-1zM934 228h1v2h-1zM948 224h1v2h-1zM950 221h1v2h-1zM964 224h1v2h-1zM965 226h1v2h-1zM966 228h1v2h-1zM968 231h1v2h-1zM970 234h1v2h-1zM985 243h1v2h-1zM997 251h1v2h-1zM1015 242h1v2h-1zM1016 239h1v3h-1zM1017 236h1v3h-1zM1018 233h1v3h-1zM1019 230h1v3h-1zM1020 227h1v3h-1zM1021 223h1v4h-1zM1022 220h1v3h-1zM1023 217h1v3h-1zM1024 215h1v2h-1zM1025 213h1v2h-1zM1026 211h1v2h-1zM1027 209h1v2h-1zM1029 206h1v2h-1zM1031 203h1v2h-1zM1032 201h1v2h-1zM1033 199h1v2h-1zM1034 197h1v2h-1zM1041 194h1v2h-1zM1059 204h1v2h-1zM1060 202h1v2h-1zM1061 200h1v2h-1zM1062 198h1v2h-1zM1065 194h1v2h-1zM1067 191h1v2h-1zM1068 189h1v2h-1zM1069 187h1v2h-1zM1070 185h1v2h-1zM1073 181h1v2h-1zM1088 183h1v2h-1zM1090 186h1v2h-1zM1096 192h1v2h-1zM1098 195h1v2h-1zM1100 198h1v2h-1zM1101 200h1v2h-1zM1102 202h1v2h-1zM1131 216h1v2h-1zM1132 218h1v3h-1zM1133 221h1v2h-1zM1134 223h1v3h-1zM1135 226h1v4h-1zM1136 230h1v5h-1zM1137 235h1v5h-1zM1138 240h1v5h-1zM1139 245h1v5h-1zM1140 250h1v4h-1zM1141 254h1v4h-1zM1142 258h1v4h-1zM1143 262h1v5h-1zM1144 267h1v6h-1zM1145 273h1v5h-1zM1146 278h1v6h-1zM1147 284h1v6h-1zM1148 290h1v6h-1zM1149 296h1v6h-1zM1150 302h1v6h-1zM1151 308h1v5h-1zM1152 313h1v4h-1zM1153 317h1v4h-1zM1154 321h1v4h-1zM1155 325h1v2h-1zM1157 328h1v2h-1zM1204 326h1v2h-1zM1206 329h1v2h-1zM1207 331h1v2h-1zM1208 333h1v2h-1zM1209 335h1v2h-1zM1210 337h1v2h-1zM1211 339h1v2h-1zM1212 341h1v2h-1zM1213 343h1v2h-1zM1214 345h1v2h-1zM1215 347h1v2h-1zM1235 357h1v3h-1zM1236 360h1v5h-1zM1237 365h1v6h-1zM1238 371h1v5h-1zM1239 376h1v5h-1zM1240 381h1v4h-1zM1241 385h1v4h-1zM1242 389h1v4h-1zM1243 393h1v4h-1zM1244 397h1v4h-1zM1245 401h1v4h-1zM1246 405h1v4h-1zM1247 409h1v4h-1zM1248 413h1v4h-1zM1249 417h1v3h-1zM1250 420h1v4h-1zM1251 424h1v4h-1zM1252 428h1v5h-1zM1253 433h1v4h-1zM1254 437h1v5h-1zM1255 442h1v3h-1zM1259 447h1v2h-1zM1260 449h1v2h-1zM1261 451h1v2h-1zM1262 453h1v2h-1zM1263 455h1v2h-1zM1279 461h1v4h-1zM1280 465h1v7h-1zM1281 472h1v8h-1zM1282 480h1v7h-1zM1283 487h1v7h-1zM1284 494h1v6h-1zM1285 500h1v7h-1zM1286 507h1v6h-1zM1287 513h1v7h-1zM1288 520h1v6h-1zM1289 526h1v7h-1zM1290 533h1v6h-1zM1291 539h1v7h-1zM1292 546h1v6h-1zM1293 552h1v6h-1zM1294 558h1v6h-1zM1295 564h1v7h-1zM1296 571h1v6h-1zM1297 577h1v6h-1zM1298 583h1v6h-1zM1299 589h1v3h-1zM1300 589h1v2h-1zM1302 586h1v2h-1zM1315 581h1v2h-1zM1316 579h1v2h-1zM1317 577h1v2h-1zM1318 575h1v2h-1zM1319 572h1v3h-1zM1320 568h1v4h-1zM1321 564h1v4h-1zM1322 560h1v4h-1zM1323 557h1v3h-1zM1324 553h1v4h-1zM1325 550h1v3h-1zM1326 546h1v4h-1zM1327 543h1v3h-1zM1328 539h1v4h-1zM1329 535h1v4h-1zM1330 531h1v4h-1zM1331 528h1v3h-1zM1332 525h1v3h-1zM1333 522h1v3h-1zM1334 519h1v3h-1zM1335 517h1v2h-1zM1339 513h1v2h-1zM1340 515h1v3h-1zM1341 518h1v3h-1zM1342 521h1v3h-1zM1343 524h1v3h-1zM1344 527h1v3h-1zM1345 530h1v2h-1zM1346 532h1v3h-1zM1347 535h1v2h-1zM1348 537h1v2h-1zM1350 540h1v2h-1zM1352 543h1v2h-1zM1353 545h1v2h-1zM1354 547h1v2h-1zM1360 547h1v2h-1zM1361 545h1v2h-1zM1362 543h1v2h-1zM1363 541h1v2h-1zM1364 539h1v2h-1zM1365 536h1v3h-1zM1366 534h1v2h-1zM1367 532h1v2h-1zM1368 534h1v2h-1zM1369 536h1v2h-1zM1370 538h1v2h-1zM1371 540h1v2h-1zM1372 542h1v3h-1zM1373 545h1v2h-1zM1374 547h1v3h-1zM1375 550h1v3h-1zM1376 553h1v3h-1zM1377 556h1v4h-1zM1378 560h1v3h-1zM1379 563h1v3h-1zM1380 566h1v3h-1zM1381 569h1v4h-1zM1382 573h1v3h-1zM1383 576h1v3h-1zM1384 579h1v3h-1zM1385 582h1v4h-1zM1386 586h1v3h-1zM1387 589h1v2h-1zM1400 597h1v2h-1zM1401 599h1v2h-1zM1402 601h1v2h-1zM1403 603h1v2h-1zM1404 605h1v2h-1zM1405 607h1v2h-1zM1406 609h1v2h-1zM1424 621h1v2h-1zM1426 624h1v2h-1zM1427 626h1v2h-1zM1428 628h1v2h-1zM1429 630h1v2h-1zM1430 632h1v2h-1zM1439 633h1v2h-1zM1440 631h1v2h-1zM1441 629h1v2h-1zM1442 627h1v2h-1zM1443 625h1v2h-1zM1444 623h1v2h-1zM1445 621h1v2h-1zM1446 619h1v2h-1zM1447 616h1v3h-1zM1448 613h1v3h-1zM1449 610h1v3h-1zM1450 607h1v3h-1zM1451 605h1v2h-1zM1473 596h1v2h-1zM1484 585h1v2h-1zM1485 583h1v2h-1zM1486 581h1v2h-1zM1512 587h1v2h-1zM1514 590h1v2h-1zM1519 596h1v2h-1zM1520 598h1v2h-1zM1521 600h1v2h-1zM1522 602h1v2h-1zM1523 604h1v2h-1zM1524 606h1v2h-1zM1526 609h1v2h-1zM1528 612h1v2h-1zM1530 615h1v2h-1zM1553 613h1v2h-1zM1600 619h1v2h-1zM1602 616h1v2h-1zM1644 592h1v2h-1zM1646 589h1v2h-1zM1665 591h1v2h-1zM1673 589h1v2h-1zM1676 585h1v2h-1zM1678 582h1v2h-1zM1681 578h1v2h-1zM1684 574h1v2h-1zM1685 572h1v2h-1zM1686 570h1v2h-1zM1721 580h1v2h-1zM1741 580h1v2h-1zM1776 586h1v2h-1zM1778 589h1v2h-1zM1781 593h1v2h-1zM1796 598h1v2h-1zM1798 595h1v2h-1zM39 64h6v1h-6zM38 65h1v1h-1zM45 65h2v1h-2zM47 66h1v1h-1zM48 67h1v1h-1zM36 68h1v1h-1zM49 68h1v1h-1zM34 69h2v1h-2zM50 69h1v1h-1zM31 70h3v1h-3zM51 70h1v1h-1zM30 71h1v1h-1zM52 71h1v1h-1zM28 72h2v1h-2zM53 72h1v1h-1zM54 73h1v1h-1zM61 87h1v1h-1zM78 94h1v1h-1zM77 95h1v1h-1zM76 96h1v1h-1zM75 97h1v1h-1zM120 97h8v1h-8zM67 98h3v1h-3zM73 98h2v1h-2zM128 98h1v1h-1zM70 99h3v1h-3zM130 101h1v1h-1zM131 102h2v1h-2zM84 103h1v1h-1zM133 103h2v1h-2zM85 104h2v1h-2zM135 104h1v1h-1zM136 105h1v1h-1zM138 108h1v1h-1zM110 117h1v1h-1zM109 118h1v1h-1zM108 119h1v1h-1zM107 120h1v1h-1zM105 121h2v1h-2zM104 122h1v1h-1zM1078 178h3v1h-3zM1075 179h3v1h-3zM1081 179h2v1h-2zM1074 180h1v1h-1zM1083 180h2v1h-2zM1085 181h2v1h-2zM1087 182h1v1h-1zM1072 183h1v1h-1zM1071 184h1v1h-1zM1089 185h1v1h-1zM1091 188h1v1h-1zM1092 189h2v1h-2zM1094 190h1v1h-1zM178 191h4v1h-4zM1095 191h1v1h-1zM175 192h3v1h-3zM182 192h2v1h-2zM1039 192h1v1h-1zM174 193h1v1h-1zM184 193h2v1h-2zM1038 193h1v1h-1zM1040 193h1v1h-1zM1066 193h1v1h-1zM173 194h1v1h-1zM186 194h1v1h-1zM295 194h3v1h-3zM1037 194h1v1h-1zM1097 194h1v1h-1zM172 195h1v1h-1zM187 195h1v1h-1zM293 195h2v1h-2zM298 195h4v1h-4zM355 195h1v1h-1zM1036 195h1v1h-1zM171 196h1v1h-1zM292 196h1v1h-1zM302 196h2v1h-2zM354 196h1v1h-1zM356 196h1v1h-1zM1035 196h1v1h-1zM1042 196h1v1h-1zM1064 196h1v1h-1zM161 197h1v1h-1zM169 197h2v1h-2zM304 197h2v1h-2zM357 197h1v1h-1zM1043 197h2v1h-2zM1063 197h1v1h-1zM1099 197h1v1h-1zM167 198h2v1h-2zM189 198h1v1h-1zM306 198h1v1h-1zM358 198h1v1h-1zM1045 198h2v1h-2zM165 199h2v1h-2zM307 199h1v1h-1zM352 199h1v1h-1zM359 199h1v1h-1zM1047 199h1v1h-1zM163 200h2v1h-2zM308 200h1v1h-1zM351 200h1v1h-1zM1048 200h1v1h-1zM191 201h1v1h-1zM309 201h1v1h-1zM349 201h2v1h-2zM1049 201h1v1h-1zM310 202h1v1h-1zM347 202h2v1h-2zM361 202h1v1h-1zM1050 202h1v1h-1zM311 203h1v1h-1zM346 203h1v1h-1zM914 203h2v1h-2zM1051 203h1v1h-1zM193 204h1v1h-1zM312 204h2v1h-2zM344 204h2v1h-2zM911 204h3v1h-3zM916 204h1v1h-1zM1052 204h2v1h-2zM1103 204h1v1h-1zM314 205h1v1h-1zM322 205h4v1h-4zM342 205h2v1h-2zM363 205h1v1h-1zM910 205h1v1h-1zM1030 205h1v1h-1zM1054 205h1v1h-1zM1058 205h1v1h-1zM1104 205h1v1h-1zM247 206h1v1h-1zM286 206h1v1h-1zM315 206h7v1h-7zM326 206h3v1h-3zM339 206h3v1h-3zM1055 206h3v1h-3zM1105 206h1v1h-1zM1111 206h3v1h-3zM245 207h2v1h-2zM329 207h2v1h-2zM918 207h1v1h-1zM1106 207h1v1h-1zM1109 207h2v1h-2zM1114 207h4v1h-4zM243 208h2v1h-2zM331 208h1v1h-1zM365 208h1v1h-1zM908 208h1v1h-1zM919 208h1v1h-1zM1028 208h1v1h-1zM1107 208h2v1h-2zM1118 208h2v1h-2zM241 209h2v1h-2zM249 209h1v1h-1zM284 209h1v1h-1zM332 209h1v1h-1zM920 209h1v1h-1zM1120 209h2v1h-2zM239 210h2v1h-2zM283 210h1v1h-1zM1122 210h1v1h-1zM282 211h1v1h-1zM1123 211h3v1h-3zM251 212h2v1h-2zM334 212h1v1h-1zM499 212h2v1h-2zM922 212h1v1h-1zM1126 212h2v1h-2zM253 213h2v1h-2zM335 213h1v1h-1zM498 213h1v1h-1zM501 213h2v1h-2zM923 213h1v1h-1zM1128 213h1v1h-1zM255 214h1v1h-1zM280 214h1v1h-1zM496 214h2v1h-2zM503 214h1v1h-1zM924 214h1v1h-1zM1129 214h1v1h-1zM279 215h1v1h-1zM467 215h6v1h-6zM494 215h2v1h-2zM504 215h1v1h-1zM1130 215h1v1h-1zM466 216h1v1h-1zM473 216h2v1h-2zM491 216h3v1h-3zM505 216h1v1h-1zM257 217h1v1h-1zM465 217h1v1h-1zM475 217h1v1h-1zM489 217h2v1h-2zM506 217h1v1h-1zM926 217h1v1h-1zM955 217h1v1h-1zM277 218h1v1h-1zM464 218h1v1h-1zM476 218h2v1h-2zM487 218h2v1h-2zM507 218h3v1h-3zM927 218h1v1h-1zM954 218h1v1h-1zM956 218h2v1h-2zM463 219h1v1h-1zM478 219h1v1h-1zM485 219h2v1h-2zM510 219h6v1h-6zM952 219h2v1h-2zM958 219h1v1h-1zM259 220h3v1h-3zM479 220h6v1h-6zM516 220h2v1h-2zM951 220h1v1h-1zM959 220h1v1h-1zM262 221h14v1h-14zM372 221h1v1h-1zM518 221h1v1h-1zM522 221h2v1h-2zM929 221h1v1h-1zM960 221h2v1h-2zM519 222h3v1h-3zM524 222h1v1h-1zM962 222h1v1h-1zM949 223h1v1h-1zM963 223h1v1h-1zM374 224h1v1h-1zM931 224h1v1h-1zM526 225h1v1h-1zM527 226h1v1h-1zM947 226h1v1h-1zM933 227h1v1h-1zM946 227h1v1h-1zM945 228h1v1h-1zM944 229h1v1h-1zM935 230h9v1h-9zM967 230h1v1h-1zM531 233h1v1h-1zM969 233h1v1h-1zM455 234h1v1h-1zM532 234h1v1h-1zM454 235h1v1h-1zM533 235h1v1h-1zM452 236h2v1h-2zM534 236h1v1h-1zM971 236h2v1h-2zM380 237h1v1h-1zM451 237h1v1h-1zM535 237h1v1h-1zM973 237h2v1h-2zM450 238h1v1h-1zM536 238h1v1h-1zM975 238h5v1h-5zM448 239h2v1h-2zM537 239h1v1h-1zM980 239h2v1h-2zM382 240h1v1h-1zM447 240h1v1h-1zM538 240h1v1h-1zM982 240h1v1h-1zM383 241h1v1h-1zM446 241h1v1h-1zM983 241h1v1h-1zM384 242h1v1h-1zM445 242h1v1h-1zM984 242h1v1h-1zM385 243h1v1h-1zM444 243h1v1h-1zM386 244h1v1h-1zM443 244h1v1h-1zM1014 244h1v1h-1zM387 245h1v1h-1zM442 245h1v1h-1zM986 245h1v1h-1zM1013 245h1v1h-1zM440 246h2v1h-2zM987 246h2v1h-2zM1012 246h1v1h-1zM439 247h1v1h-1zM989 247h2v1h-2zM1011 247h1v1h-1zM389 248h1v1h-1zM438 248h1v1h-1zM991 248h3v1h-3zM1010 248h1v1h-1zM436 249h2v1h-2zM543 249h1v1h-1zM994 249h2v1h-2zM1009 249h1v1h-1zM435 250h1v1h-1zM544 250h2v1h-2zM996 250h1v1h-1zM1008 250h1v1h-1zM391 251h1v1h-1zM434 251h1v1h-1zM546 251h1v1h-1zM1007 251h1v1h-1zM392 252h1v1h-1zM547 252h2v1h-2zM1006 252h1v1h-1zM212 253h1v1h-1zM549 253h2v1h-2zM998 253h1v1h-1zM1004 253h2v1h-2zM221 254h2v1h-2zM432 254h1v1h-1zM551 254h1v1h-1zM999 254h5v1h-5zM219 255h2v1h-2zM394 255h1v1h-1zM431 255h1v1h-1zM552 255h2v1h-2zM563 255h1v1h-1zM214 256h1v1h-1zM217 256h2v1h-2zM395 256h1v1h-1zM430 256h1v1h-1zM554 256h1v1h-1zM561 256h2v1h-2zM564 256h2v1h-2zM215 257h2v1h-2zM396 257h2v1h-2zM428 257h2v1h-2zM555 257h6v1h-6zM566 257h1v1h-1zM398 258h1v1h-1zM427 258h1v1h-1zM567 258h1v1h-1zM399 259h2v1h-2zM411 259h2v1h-2zM419 259h3v1h-3zM425 259h2v1h-2zM568 259h1v1h-1zM401 260h2v1h-2zM410 260h1v1h-1zM413 260h2v1h-2zM417 260h2v1h-2zM422 260h3v1h-3zM403 261h1v1h-1zM415 261h2v1h-2zM404 262h2v1h-2zM570 262h1v1h-1zM406 263h1v1h-1zM408 263h1v1h-1zM407 264h1v1h-1zM687 315h6v1h-6zM685 316h2v1h-2zM693 316h2v1h-2zM683 317h2v1h-2zM695 317h7v1h-7zM702 318h3v1h-3zM705 319h2v1h-2zM710 319h2v1h-2zM681 320h1v1h-1zM707 320h3v1h-3zM712 320h2v1h-2zM1195 320h3v1h-3zM714 321h1v1h-1zM1194 321h1v1h-1zM1198 321h2v1h-2zM623 322h1v1h-1zM715 322h1v1h-1zM1192 322h2v1h-2zM1200 322h1v1h-1zM622 323h1v1h-1zM624 323h2v1h-2zM679 323h1v1h-1zM716 323h1v1h-1zM1190 323h2v1h-2zM1201 323h1v1h-1zM591 324h1v1h-1zM621 324h1v1h-1zM626 324h1v1h-1zM678 324h1v1h-1zM1183 324h7v1h-7zM1202 324h1v1h-1zM592 325h1v1h-1zM620 325h1v1h-1zM627 325h1v1h-1zM676 325h2v1h-2zM1182 325h1v1h-1zM1203 325h1v1h-1zM619 326h1v1h-1zM628 326h2v1h-2zM675 326h1v1h-1zM718 326h1v1h-1zM1180 326h2v1h-2zM611 327h3v1h-3zM617 327h2v1h-2zM630 327h1v1h-1zM674 327h1v1h-1zM719 327h3v1h-3zM1156 327h1v1h-1zM1179 327h1v1h-1zM594 328h1v1h-1zM609 328h2v1h-2zM614 328h3v1h-3zM631 328h3v1h-3zM722 328h2v1h-2zM751 328h1v1h-1zM1177 328h2v1h-2zM1205 328h1v1h-1zM607 329h2v1h-2zM634 329h2v1h-2zM724 329h2v1h-2zM749 329h2v1h-2zM752 329h2v1h-2zM1174 329h3v1h-3zM636 330h1v1h-1zM672 330h1v1h-1zM726 330h1v1h-1zM747 330h2v1h-2zM754 330h1v1h-1zM1158 330h1v1h-1zM1171 330h3v1h-3zM637 331h1v1h-1zM671 331h1v1h-1zM727 331h1v1h-1zM746 331h1v1h-1zM755 331h1v1h-1zM1159 331h1v1h-1zM1170 331h1v1h-1zM605 332h1v1h-1zM638 332h1v1h-1zM670 332h1v1h-1zM745 332h1v1h-1zM756 332h2v1h-2zM1160 332h2v1h-2zM1169 332h1v1h-1zM639 333h1v1h-1zM668 333h2v1h-2zM744 333h1v1h-1zM758 333h1v1h-1zM1162 333h1v1h-1zM1168 333h1v1h-1zM667 334h1v1h-1zM729 334h1v1h-1zM739 334h5v1h-5zM759 334h2v1h-2zM1163 334h5v1h-5zM603 335h1v1h-1zM666 335h1v1h-1zM738 335h1v1h-1zM761 335h2v1h-2zM601 336h2v1h-2zM641 336h1v1h-1zM659 336h3v1h-3zM664 336h2v1h-2zM737 336h1v1h-1zM599 337h2v1h-2zM658 337h1v1h-1zM662 337h2v1h-2zM731 337h3v1h-3zM736 337h1v1h-1zM870 337h4v1h-4zM656 338h2v1h-2zM734 338h2v1h-2zM867 338h3v1h-3zM874 338h2v1h-2zM643 339h2v1h-2zM655 339h1v1h-1zM866 339h1v1h-1zM876 339h2v1h-2zM645 340h2v1h-2zM653 340h2v1h-2zM865 340h1v1h-1zM878 340h1v1h-1zM647 341h6v1h-6zM864 341h1v1h-1zM879 341h1v1h-1zM862 342h2v1h-2zM880 342h2v1h-2zM859 343h3v1h-3zM882 343h1v1h-1zM858 344h1v1h-1zM883 344h1v1h-1zM857 345h1v1h-1zM856 346h1v1h-1zM855 347h1v1h-1zM854 348h1v1h-1zM1216 348h1v1h-1zM853 349h1v1h-1zM1217 349h2v1h-2zM1226 349h2v1h-2zM852 350h1v1h-1zM1219 350h7v1h-7zM1228 350h1v1h-1zM851 351h1v1h-1zM1229 351h1v1h-1zM850 352h1v1h-1zM1230 352h1v1h-1zM849 353h1v1h-1zM1231 353h1v1h-1zM848 354h1v1h-1zM1232 354h1v1h-1zM847 355h1v1h-1zM1233 355h1v1h-1zM846 356h1v1h-1zM1234 356h1v1h-1zM844 359h1v1h-1zM843 360h1v1h-1zM842 361h1v1h-1zM841 362h1v1h-1zM840 363h1v1h-1zM838 364h2v1h-2zM831 365h7v1h-7zM830 366h1v1h-1zM828 367h2v1h-2zM827 368h1v1h-1zM826 369h1v1h-1zM825 370h1v1h-1zM824 371h1v1h-1zM823 372h1v1h-1zM822 373h1v1h-1zM820 374h2v1h-2zM819 375h1v1h-1zM817 378h1v1h-1zM815 381h1v1h-1zM814 382h1v1h-1zM813 383h1v1h-1zM812 384h1v1h-1zM811 385h1v1h-1zM809 388h1v1h-1zM807 391h1v1h-1zM806 392h1v1h-1zM804 393h2v1h-2zM785 394h1v1h-1zM803 394h1v1h-1zM802 395h1v1h-1zM801 396h1v1h-1zM787 397h1v1h-1zM800 397h1v1h-1zM788 398h1v1h-1zM799 398h1v1h-1zM797 399h2v1h-2zM795 400h2v1h-2zM790 401h1v1h-1zM793 401h2v1h-2zM791 402h2v1h-2zM1256 445h2v1h-2zM1258 446h1v1h-1zM1264 457h1v1h-1zM1275 457h1v1h-1zM1265 458h1v1h-1zM1273 458h2v1h-2zM1276 458h1v1h-1zM1266 459h1v1h-1zM1270 459h3v1h-3zM1277 459h1v1h-1zM1267 460h3v1h-3zM1278 460h1v1h-1zM1338 514h1v1h-1zM1337 515h1v1h-1zM1336 516h1v1h-1zM1349 539h1v1h-1zM1351 542h1v1h-1zM1355 549h5v1h-5zM1687 569h5v1h-5zM1692 570h2v1h-2zM1694 571h1v1h-1zM1695 572h1v1h-1zM1696 573h1v1h-1zM1697 574h1v1h-1zM1698 575h1v1h-1zM1731 575h5v1h-5zM1683 576h1v1h-1zM1699 576h1v1h-1zM1730 576h1v1h-1zM1736 576h2v1h-2zM1682 577h1v1h-1zM1700 577h1v1h-1zM1728 577h2v1h-2zM1738 577h1v1h-1zM1701 578h1v1h-1zM1723 578h5v1h-5zM1739 578h1v1h-1zM1702 579h1v1h-1zM1722 579h1v1h-1zM1740 579h1v1h-1zM1487 580h3v1h-3zM1680 580h1v1h-1zM1703 580h1v1h-1zM1490 581h3v1h-3zM1679 581h1v1h-1zM1704 581h1v1h-1zM1766 581h6v1h-6zM1307 582h2v1h-2zM1493 582h2v1h-2zM1503 582h2v1h-2zM1705 582h1v1h-1zM1720 582h1v1h-1zM1742 582h1v1h-1zM1763 582h3v1h-3zM1772 582h1v1h-1zM1306 583h1v1h-1zM1309 583h2v1h-2zM1313 583h2v1h-2zM1495 583h3v1h-3zM1501 583h2v1h-2zM1505 583h2v1h-2zM1706 583h1v1h-1zM1719 583h1v1h-1zM1743 583h3v1h-3zM1761 583h2v1h-2zM1773 583h1v1h-1zM1304 584h2v1h-2zM1311 584h2v1h-2zM1498 584h3v1h-3zM1507 584h2v1h-2zM1677 584h1v1h-1zM1707 584h1v1h-1zM1718 584h1v1h-1zM1746 584h3v1h-3zM1758 584h3v1h-3zM1774 584h1v1h-1zM1303 585h1v1h-1zM1509 585h2v1h-2zM1654 585h3v1h-3zM1708 585h2v1h-2zM1717 585h1v1h-1zM1749 585h2v1h-2zM1754 585h4v1h-4zM1775 585h1v1h-1zM1511 586h1v1h-1zM1651 586h3v1h-3zM1657 586h2v1h-2zM1710 586h1v1h-1zM1716 586h1v1h-1zM1751 586h3v1h-3zM1483 587h1v1h-1zM1649 587h2v1h-2zM1659 587h2v1h-2zM1675 587h1v1h-1zM1711 587h5v1h-5zM1301 588h1v1h-1zM1482 588h1v1h-1zM1647 588h2v1h-2zM1661 588h2v1h-2zM1674 588h1v1h-1zM1777 588h1v1h-1zM1480 589h2v1h-2zM1513 589h1v1h-1zM1663 589h1v1h-1zM1479 590h1v1h-1zM1664 590h1v1h-1zM1388 591h2v1h-2zM1478 591h1v1h-1zM1645 591h1v1h-1zM1672 591h1v1h-1zM1779 591h1v1h-1zM1390 592h1v1h-1zM1477 592h1v1h-1zM1515 592h1v1h-1zM1671 592h1v1h-1zM1780 592h1v1h-1zM1391 593h3v1h-3zM1476 593h1v1h-1zM1516 593h1v1h-1zM1666 593h1v1h-1zM1669 593h2v1h-2zM1394 594h3v1h-3zM1475 594h1v1h-1zM1517 594h1v1h-1zM1643 594h1v1h-1zM1667 594h2v1h-2zM1799 594h1v1h-1zM1397 595h2v1h-2zM1474 595h1v1h-1zM1518 595h1v1h-1zM1642 595h1v1h-1zM1782 595h1v1h-1zM1399 596h1v1h-1zM1641 596h1v1h-1zM1783 596h1v1h-1zM1640 597h1v1h-1zM1784 597h2v1h-2zM1797 597h1v1h-1zM1472 598h1v1h-1zM1639 598h1v1h-1zM1786 598h1v1h-1zM1471 599h1v1h-1zM1638 599h1v1h-1zM1787 599h3v1h-3zM1459 600h2v1h-2zM1470 600h1v1h-1zM1636 600h2v1h-2zM1790 600h6v1h-6zM1458 601h1v1h-1zM1461 601h2v1h-2zM1469 601h1v1h-1zM1635 601h1v1h-1zM1456 602h2v1h-2zM1463 602h3v1h-3zM1468 602h1v1h-1zM1633 602h2v1h-2zM1455 603h1v1h-1zM1466 603h2v1h-2zM1631 603h2v1h-2zM1453 604h2v1h-2zM1629 604h2v1h-2zM1452 605h1v1h-1zM1619 605h3v1h-3zM1626 605h3v1h-3zM1618 606h1v1h-1zM1622 606h4v1h-4zM1616 607h2v1h-2zM1525 608h1v1h-1zM1615 608h1v1h-1zM1613 609h2v1h-2zM1546 610h4v1h-4zM1611 610h2v1h-2zM1407 611h1v1h-1zM1527 611h1v1h-1zM1543 611h3v1h-3zM1550 611h2v1h-2zM1609 611h2v1h-2zM1408 612h2v1h-2zM1542 612h1v1h-1zM1552 612h1v1h-1zM1607 612h2v1h-2zM1410 613h1v1h-1zM1541 613h1v1h-1zM1579 613h1v1h-1zM1606 613h1v1h-1zM1411 614h2v1h-2zM1529 614h1v1h-1zM1540 614h1v1h-1zM1577 614h2v1h-2zM1580 614h1v1h-1zM1604 614h2v1h-2zM1413 615h2v1h-2zM1535 615h5v1h-5zM1554 615h1v1h-1zM1575 615h2v1h-2zM1581 615h1v1h-1zM1603 615h1v1h-1zM1415 616h1v1h-1zM1533 616h2v1h-2zM1555 616h2v1h-2zM1574 616h1v1h-1zM1582 616h1v1h-1zM1416 617h1v1h-1zM1531 617h2v1h-2zM1557 617h2v1h-2zM1573 617h1v1h-1zM1583 617h2v1h-2zM1417 618h1v1h-1zM1559 618h1v1h-1zM1572 618h1v1h-1zM1585 618h2v1h-2zM1601 618h1v1h-1zM1418 619h1v1h-1zM1560 619h2v1h-2zM1571 619h1v1h-1zM1587 619h3v1h-3zM1419 620h5v1h-5zM1562 620h1v1h-1zM1570 620h1v1h-1zM1590 620h8v1h-8zM1563 621h2v1h-2zM1569 621h1v1h-1zM1598 621h2v1h-2zM1565 622h2v1h-2zM1568 622h1v1h-1zM1425 623h1v1h-1zM1567 623h1v1h-1zM1431 634h8v1h-8z" fill="#ff0000" shape-rendering="crispEdges"/>
<g shape-rendering="crispEdges" fill="none" stroke-width="1"><line x1="4" y1="745.5" x2="1877" y2="745.5" stroke="#c0c0c0" stroke-dasharray="3 3"/><line x1="4" y1="816.5" x2="1877" y2="816.5" stroke="#c0c0c0" stroke-dasharray="3 3"/></g>
<path d="M15 726h1v2h-1zM16 728h1v2h-1zM17 730h1v2h-1zM18 732h1v2h-1zM19 734h1v3h-1zM20 737h1v2h-1zM21 739h1v3h-1zM22 742h1v2h-1zM23 744h1v2h-1zM24 743h1v2h-1zM25 741h1v2h-1zM26 739h1v2h-1zM27 738h1v2h-1zM28 740h1v2h-1zM29 742h1v3h-1zM30 745h1v2h-1zM31 747h1v2h-1zM35 746h1v2h-1zM36 748h1v3h-1zM37 751h1v4h-1zM38 755h1v3h-1zM39 758h1v2h-1zM40 760h1v2h-1zM41 762h1v2h-1zM42 764h1v2h-1zM56 767h1v2h-1zM58 764h1v2h-1zM67 761h1v5h-1zM68 766h1v8h-1zM69 774h1v9h-1zM70 783h1v8h-1zM71 791h1v5h-1zM72 789h1v4h-1zM73 785h1v4h-1zM74 781h1v4h-1zM75 778h1v3h-1zM76 779h1v2h-1zM78 782h1v2h-1zM81 786h1v2h-1zM87 783h1v3h-1zM88 779h1v4h-1zM89 775h1v4h-1zM90 771h1v4h-1zM91 769h1v2h-1zM93 771h1v2h-1zM113 772h1v2h-1zM115 775h1v2h-1zM116 777h1v3h-1zM117 780h1v2h-1zM118 782h1v3h-1zM119 785h1v2h-1zM120 783h1v2h-1zM121 781h1v2h-1zM122 779h1v2h-1zM127 779h1v2h-1zM128 781h1v4h-1zM129 785h1v4h-1zM130 789h1v4h-1zM131 793h1v3h-1zM132 796h1v4h-1zM133 800h1v4h-1zM134 804h1v4h-1zM135 808h1v2h-1zM141 809h1v2h-1zM143 811h1v2h-1zM144 809h1v2h-1zM145 806h1v3h-1zM146 804h1v2h-1zM147 802h1v2h-1zM148 800h1v2h-1zM150 797h1v2h-1zM165 798h1v2h-1zM173 798h1v2h-1zM177 803h1v2h-1zM185 811h1v2h-1zM196 816h1v2h-1zM197 818h1v2h-1zM198 820h1v2h-1zM199 820h1v3h-1zM200 815h1v5h-1zM201 810h1v5h-1zM202 805h1v5h-1zM203 802h1v3h-1zM208 796h1v2h-1zM210 793h1v2h-1zM213 789h1v2h-1zM215 786h1v2h-1zM216 784h1v2h-1zM217 782h1v2h-1zM218 780h1v2h-1zM224 776h1v2h-1zM225 778h1v2h-1zM226 780h1v2h-1zM229 784h1v2h-1zM236 785h1v2h-1zM238 788h1v2h-1zM239 789h1v2h-1zM240 787h1v2h-1zM241 784h1v3h-1zM242 782h1v2h-1zM243 780h1v2h-1zM244 782h1v3h-1zM245 785h1v4h-1zM246 789h1v3h-1zM247 792h1v2h-1zM248 791h1v2h-1zM249 789h1v2h-1zM250 787h1v2h-1zM259 787h1v2h-1zM260 785h1v2h-1zM261 783h1v2h-1zM262 781h1v2h-1zM263 779h1v2h-1zM269 777h1v2h-1zM277 770h1v2h-1zM279 768h1v2h-1zM280 770h1v2h-1zM281 772h1v2h-1zM282 774h1v2h-1zM283 776h1v2h-1zM284 778h1v2h-1zM285 780h1v2h-1zM286 782h1v2h-1zM289 781h1v2h-1zM308 782h1v2h-1zM309 780h1v2h-1zM310 778h1v2h-1zM312 778h1v2h-1zM313 780h1v2h-1zM314 782h1v2h-1zM319 786h1v2h-1zM320 788h1v2h-1zM321 790h1v2h-1zM322 792h1v2h-1zM323 791h1v4h-1zM324 783h1v8h-1zM325 776h1v7h-1zM326 768h1v8h-1zM327 764h1v4h-1zM328 766h1v2h-1zM329 768h1v3h-1zM330 771h1v2h-1zM331 773h1v2h-1zM347 776h1v2h-1zM348 778h1v3h-1zM349 781h1v3h-1zM350 784h1v3h-1zM351 787h1v2h-1zM355 792h1v2h-1zM356 794h1v2h-1zM357 796h1v2h-1zM358 798h1v2h-1zM359 799h1v2h-1zM360 797h1v2h-1zM361 794h1v3h-1zM362 792h1v2h-1zM363 790h1v2h-1zM364 792h1v2h-1zM365 794h1v3h-1zM366 797h1v2h-1zM367 799h1v2h-1zM369 797h1v2h-1zM375 797h1v2h-1zM376 799h1v2h-1zM377 801h1v3h-1zM378 804h1v2h-1zM379 806h1v2h-1zM380 803h1v3h-1zM381 800h1v3h-1zM382 797h1v3h-1zM383 795h1v2h-1zM384 796h1v2h-1zM386 799h1v2h-1zM387 800h1v2h-1zM388 798h1v2h-1zM389 796h1v2h-1zM390 794h1v2h-1zM396 794h1v2h-1zM397 792h1v2h-1zM398 790h1v2h-1zM411 795h1v2h-1zM412 793h1v2h-1zM413 791h1v2h-1zM414 789h1v2h-1zM415 786h1v3h-1zM416 784h1v2h-1zM417 782h1v2h-1zM418 780h1v2h-1zM419 778h1v2h-1zM429 784h1v2h-1zM431 786h1v2h-1zM432 783h1v3h-1zM433 781h1v2h-1zM434 778h1v3h-1zM435 776h1v2h-1zM436 774h1v2h-1zM438 771h1v2h-1zM455 765h1v2h-1zM456 767h1v2h-1zM457 769h1v2h-1zM458 771h1v2h-1zM467 778h1v2h-1zM468 775h1v3h-1zM469 773h1v2h-1zM470 770h1v3h-1zM471 767h1v3h-1zM472 765h1v2h-1zM473 763h1v2h-1zM474 761h1v2h-1zM475 760h1v2h-1zM476 762h1v3h-1zM477 765h1v2h-1zM478 767h1v3h-1zM479 770h1v2h-1zM481 773h1v2h-1zM487 772h1v2h-1zM488 774h1v2h-1zM489 776h1v2h-1zM490 778h1v2h-1zM504 778h1v2h-1zM505 780h1v2h-1zM506 782h1v2h-1zM509 781h1v2h-1zM511 779h1v3h-1zM512 782h1v4h-1zM513 786h1v4h-1zM514 790h1v4h-1zM515 794h1v2h-1zM519 797h1v2h-1zM520 795h1v2h-1zM521 793h1v2h-1zM522 791h1v2h-1zM523 789h1v2h-1zM525 791h1v2h-1zM527 794h1v2h-1zM528 796h1v2h-1zM529 798h1v2h-1zM530 800h1v2h-1zM531 802h1v2h-1zM540 800h1v2h-1zM541 798h1v2h-1zM542 796h1v2h-1zM543 794h1v2h-1zM544 792h1v2h-1zM545 789h1v3h-1zM546 787h1v2h-1zM547 785h1v2h-1zM548 786h1v2h-1zM550 789h1v2h-1zM551 791h1v2h-1zM552 793h1v4h-1zM553 797h1v4h-1zM554 801h1v4h-1zM555 805h1v2h-1zM560 811h1v2h-1zM561 813h1v2h-1zM562 815h1v2h-1zM567 813h1v2h-1zM568 815h1v4h-1zM569 819h1v4h-1zM570 823h1v4h-1zM571 827h1v2h-1zM575 828h1v2h-1zM576 825h1v3h-1zM577 821h1v4h-1zM578 818h1v3h-1zM579 816h1v2h-1zM589 815h1v2h-1zM591 812h1v2h-1zM592 809h1v3h-1zM593 806h1v3h-1zM594 803h1v3h-1zM595 801h1v2h-1zM600 803h1v2h-1zM601 805h1v2h-1zM602 807h1v2h-1zM603 808h1v2h-1zM604 806h1v2h-1zM605 804h1v2h-1zM606 802h1v2h-1zM608 799h1v2h-1zM609 797h1v2h-1zM610 795h1v2h-1zM612 795h1v2h-1zM613 797h1v2h-1zM614 799h1v2h-1zM636 801h1v2h-1zM637 799h1v2h-1zM638 797h1v2h-1zM647 795h1v2h-1zM648 797h1v2h-1zM649 799h1v3h-1zM650 802h1v2h-1zM651 803h1v3h-1zM652 799h1v4h-1zM653 794h1v5h-1zM654 790h1v4h-1zM655 787h1v3h-1zM656 785h1v2h-1zM658 782h1v2h-1zM659 780h1v2h-1zM660 778h1v2h-1zM661 776h1v2h-1zM662 774h1v2h-1zM663 772h1v2h-1zM664 774h1v2h-1zM665 776h1v3h-1zM666 779h1v2h-1zM667 781h1v2h-1zM689 784h1v2h-1zM695 787h1v2h-1zM696 785h1v2h-1zM697 782h1v3h-1zM698 780h1v2h-1zM699 778h1v2h-1zM700 780h1v3h-1zM701 783h1v2h-1zM702 785h1v3h-1zM703 788h1v3h-1zM704 791h1v2h-1zM705 793h1v2h-1zM706 795h1v2h-1zM708 795h1v2h-1zM709 793h1v2h-1zM710 791h1v2h-1zM717 796h1v2h-1zM719 798h1v2h-1zM720 795h1v3h-1zM721 793h1v2h-1zM722 790h1v3h-1zM723 787h1v3h-1zM724 785h1v2h-1zM725 783h1v2h-1zM726 781h1v2h-1zM727 779h1v2h-1zM728 780h1v2h-1zM730 783h1v2h-1zM731 784h1v2h-1zM732 782h1v2h-1zM733 780h1v2h-1zM734 778h1v2h-1zM735 776h1v2h-1zM736 778h1v3h-1zM737 781h1v2h-1zM738 783h1v3h-1zM739 786h1v3h-1zM740 789h1v2h-1zM741 791h1v3h-1zM742 794h1v2h-1zM743 796h1v2h-1zM744 793h1v3h-1zM745 791h1v2h-1zM746 788h1v3h-1zM747 786h1v2h-1zM751 788h1v3h-1zM752 791h1v4h-1zM753 795h1v5h-1zM754 800h1v4h-1zM755 804h1v3h-1zM759 806h1v2h-1zM760 808h1v3h-1zM761 811h1v2h-1zM762 813h1v3h-1zM763 816h1v2h-1zM767 818h1v2h-1zM768 816h1v2h-1zM769 814h1v2h-1zM770 812h1v2h-1zM780 808h1v2h-1zM781 806h1v2h-1zM782 804h1v2h-1zM787 806h1v2h-1zM788 802h1v4h-1zM789 798h1v4h-1zM790 794h1v4h-1zM791 792h1v2h-1zM795 795h1v2h-1zM796 793h1v2h-1zM797 790h1v3h-1zM798 788h1v2h-1zM799 786h1v2h-1zM816 781h1v2h-1zM818 778h1v2h-1zM821 779h1v2h-1zM827 778h1v2h-1zM828 775h1v3h-1zM829 773h1v2h-1zM830 770h1v3h-1zM831 768h1v2h-1zM839 762h1v2h-1zM840 764h1v2h-1zM841 766h1v3h-1zM842 769h1v2h-1zM843 771h1v2h-1zM845 769h1v2h-1zM851 765h1v2h-1zM852 763h1v2h-1zM853 761h1v2h-1zM854 759h1v2h-1zM855 757h1v2h-1zM856 758h1v2h-1zM857 760h1v2h-1zM858 762h1v2h-1zM859 764h1v3h-1zM860 767h1v4h-1zM861 771h1v4h-1zM862 775h1v4h-1zM863 779h1v3h-1zM875 780h1v7h-1zM876 766h1v14h-1zM877 753h1v13h-1zM878 739h1v14h-1zM879 732h1v7h-1zM895 727h1v2h-1zM896 729h1v2h-1zM897 731h1v3h-1zM898 734h1v2h-1zM899 736h1v2h-1zM904 740h1v2h-1zM906 743h1v2h-1zM915 745h1v2h-1zM916 747h1v4h-1zM917 751h1v3h-1zM918 754h1v4h-1zM919 758h1v2h-1zM924 757h1v2h-1zM925 755h1v2h-1zM926 753h1v2h-1zM932 749h1v2h-1zM933 747h1v2h-1zM934 745h1v2h-1zM936 745h1v2h-1zM938 748h1v2h-1zM939 750h1v2h-1zM940 752h1v4h-1zM941 756h1v3h-1zM942 759h1v4h-1zM943 763h1v2h-1zM944 765h1v2h-1zM946 768h1v2h-1zM967 770h1v2h-1zM968 772h1v2h-1zM969 774h1v3h-1zM970 777h1v2h-1zM971 779h1v2h-1zM973 782h1v2h-1zM975 784h1v2h-1zM976 782h1v2h-1zM977 780h1v2h-1zM978 778h1v2h-1zM983 779h1v2h-1zM984 781h1v2h-1zM985 783h1v2h-1zM986 785h1v2h-1zM987 787h1v2h-1zM988 785h1v2h-1zM989 783h1v2h-1zM990 781h1v2h-1zM992 778h1v2h-1zM993 776h1v2h-1zM994 774h1v2h-1zM996 771h1v2h-1zM997 769h1v2h-1zM998 767h1v2h-1zM1003 764h1v2h-1zM1004 761h1v3h-1zM1005 759h1v2h-1zM1006 756h1v3h-1zM1007 754h1v2h-1zM1008 752h1v2h-1zM1009 750h1v2h-1zM1010 748h1v2h-1zM1013 749h1v2h-1zM1016 753h1v2h-1zM1017 755h1v2h-1zM1018 757h1v2h-1zM1020 757h1v2h-1zM1022 754h1v2h-1zM1027 751h1v3h-1zM1028 754h1v5h-1zM1029 759h1v5h-1zM1030 764h1v5h-1zM1031 769h1v3h-1zM1035 768h1v2h-1zM1036 770h1v2h-1zM1037 772h1v3h-1zM1038 775h1v2h-1zM1039 777h1v2h-1zM1040 776h1v2h-1zM1041 774h1v2h-1zM1042 772h1v2h-1zM1043 770h1v2h-1zM1044 767h1v3h-1zM1045 763h1v4h-1zM1046 760h1v3h-1zM1047 758h1v2h-1zM1052 756h1v2h-1zM1053 758h1v2h-1zM1054 760h1v2h-1zM1061 763h1v2h-1zM1065 763h1v2h-1zM1071 762h1v2h-1zM1072 764h1v3h-1zM1073 767h1v4h-1zM1074 771h1v3h-1zM1075 774h1v2h-1zM1077 777h1v2h-1zM1088 780h1v2h-1zM1089 782h1v2h-1zM1090 784h1v2h-1zM1095 785h1v2h-1zM1096 782h1v3h-1zM1097 780h1v2h-1zM1098 777h1v3h-1zM1099 775h1v2h-1zM1100 776h1v2h-1zM1102 779h1v2h-1zM1107 784h1v2h-1zM1108 786h1v3h-1zM1109 789h1v2h-1zM1110 791h1v3h-1zM1111 794h1v2h-1zM1112 792h1v2h-1zM1113 790h1v2h-1zM1114 788h1v2h-1zM1119 788h1v3h-1zM1120 791h1v5h-1zM1121 796h1v6h-1zM1122 802h1v5h-1zM1123 807h1v5h-1zM1124 812h1v4h-1zM1125 816h1v4h-1zM1126 820h1v4h-1zM1127 824h1v2h-1zM1140 830h1v2h-1zM1141 828h1v2h-1zM1142 826h1v2h-1zM1164 817h1v2h-1zM1165 815h1v2h-1zM1166 813h1v2h-1zM1177 811h1v2h-1zM1180 807h1v2h-1zM1181 805h1v2h-1zM1182 803h1v2h-1zM1184 803h1v2h-1zM1186 806h1v2h-1zM1188 809h1v2h-1zM1189 811h1v2h-1zM1190 813h1v2h-1zM1192 816h1v2h-1zM1194 819h1v2h-1zM1203 820h1v3h-1zM1204 815h1v5h-1zM1205 809h1v6h-1zM1206 804h1v5h-1zM1207 801h1v3h-1zM1212 803h1v2h-1zM1214 806h1v2h-1zM1215 808h1v2h-1zM1216 810h1v3h-1zM1217 813h1v2h-1zM1218 815h1v3h-1zM1219 818h1v2h-1zM1223 820h1v3h-1zM1224 823h1v4h-1zM1225 827h1v4h-1zM1226 831h1v4h-1zM1227 835h1v3h-1zM1228 832h1v4h-1zM1229 829h1v3h-1zM1230 825h1v4h-1zM1231 823h1v2h-1zM1243 832h1v2h-1zM1244 829h1v3h-1zM1245 825h1v4h-1zM1246 822h1v3h-1zM1247 820h1v2h-1zM1251 822h1v2h-1zM1252 820h1v2h-1zM1253 818h1v2h-1zM1254 816h1v2h-1zM1267 819h1v3h-1zM1268 822h1v6h-1zM1269 828h1v5h-1zM1270 833h1v6h-1zM1271 839h1v3h-1zM1272 837h1v3h-1zM1273 834h1v3h-1zM1274 831h1v3h-1zM1275 829h1v2h-1zM1300 820h1v2h-1zM1301 818h1v2h-1zM1302 816h1v2h-1zM1303 814h1v2h-1zM1304 811h1v3h-1zM1305 809h1v2h-1zM1306 806h1v3h-1zM1307 802h1v4h-1zM1308 797h1v5h-1zM1309 793h1v4h-1zM1310 788h1v5h-1zM1311 785h1v3h-1zM1327 793h1v2h-1zM1328 795h1v2h-1zM1329 797h1v2h-1zM1330 799h1v2h-1zM1331 801h1v2h-1zM1335 802h1v2h-1zM1336 800h1v2h-1zM1337 798h1v2h-1zM1338 796h1v2h-1zM1339 794h1v2h-1zM1343 795h1v2h-1zM1344 793h1v2h-1zM1345 791h1v2h-1zM1346 789h1v2h-1zM1352 783h1v2h-1zM1354 780h1v2h-1zM1355 779h1v4h-1zM1356 783h1v6h-1zM1357 789h1v6h-1zM1358 795h1v6h-1zM1359 801h1v4h-1zM1361 806h1v2h-1zM1376 799h1v2h-1zM1378 802h1v2h-1zM1389 808h1v2h-1zM1412 811h1v2h-1zM1414 814h1v2h-1zM1419 816h1v4h-1zM1420 809h1v7h-1zM1421 801h1v8h-1zM1422 794h1v7h-1zM1423 790h1v4h-1zM1425 792h1v2h-1zM1427 793h1v3h-1zM1428 789h1v4h-1zM1429 785h1v4h-1zM1430 781h1v4h-1zM1431 779h1v2h-1zM1455 783h1v2h-1zM1456 780h1v3h-1zM1457 778h1v2h-1zM1458 775h1v3h-1zM1459 773h1v2h-1zM1464 771h1v2h-1zM1465 773h1v2h-1zM1466 775h1v2h-1zM1472 774h1v2h-1zM1473 772h1v2h-1zM1474 770h1v2h-1zM1476 770h1v2h-1zM1477 772h1v2h-1zM1478 774h1v2h-1zM1487 781h1v2h-1zM1488 779h1v2h-1zM1489 776h1v3h-1zM1490 774h1v2h-1zM1491 772h1v2h-1zM1496 777h1v2h-1zM1498 780h1v2h-1zM1499 782h1v2h-1zM1500 784h1v3h-1zM1501 787h1v4h-1zM1502 791h1v3h-1zM1503 794h1v2h-1zM1509 793h1v2h-1zM1512 794h1v2h-1zM1513 792h1v2h-1zM1514 790h1v2h-1zM1516 790h1v2h-1zM1518 793h1v2h-1zM1519 794h1v2h-1zM1520 792h1v2h-1zM1521 790h1v2h-1zM1522 788h1v2h-1zM1523 786h1v2h-1zM1527 787h1v2h-1zM1528 785h1v2h-1zM1529 783h1v2h-1zM1530 781h1v2h-1zM1535 783h1v2h-1zM1536 785h1v3h-1zM1537 788h1v4h-1zM1538 792h1v3h-1zM1539 795h1v2h-1zM1545 794h1v2h-1zM1548 790h1v2h-1zM1549 788h1v2h-1zM1550 786h1v2h-1zM1567 784h1v2h-1zM1568 786h1v4h-1zM1569 790h1v3h-1zM1570 793h1v4h-1zM1571 797h1v2h-1zM1572 796h1v2h-1zM1574 793h1v2h-1zM1575 791h1v2h-1zM1576 789h1v2h-1zM1577 786h1v3h-1zM1578 784h1v2h-1zM1579 782h1v2h-1zM1587 784h1v2h-1zM1588 782h1v2h-1zM1589 779h1v3h-1zM1590 777h1v2h-1zM1591 775h1v2h-1zM1592 776h1v2h-1zM1594 779h1v2h-1zM1595 780h1v2h-1zM1596 778h1v2h-1zM1597 776h1v2h-1zM1598 774h1v2h-1zM1600 774h1v2h-1zM1602 777h1v2h-1zM1605 776h1v2h-1zM1609 776h1v2h-1zM1615 776h1v2h-1zM1616 774h1v2h-1zM1617 772h1v2h-1zM1618 770h1v2h-1zM1623 771h1v2h-1zM1624 769h1v2h-1zM1625 767h1v2h-1zM1626 765h1v2h-1zM1633 759h1v2h-1zM1635 757h1v2h-1zM1636 759h1v2h-1zM1637 761h1v3h-1zM1638 764h1v2h-1zM1639 766h1v2h-1zM1640 768h1v2h-1zM1641 770h1v2h-1zM1642 772h1v2h-1zM1649 775h1v2h-1zM1651 773h1v2h-1zM1652 775h1v2h-1zM1653 777h1v2h-1zM1654 779h1v2h-1zM1655 780h1v3h-1zM1656 776h1v4h-1zM1657 772h1v4h-1zM1658 768h1v4h-1zM1659 764h1v4h-1zM1660 762h1v2h-1zM1661 760h1v2h-1zM1662 758h1v2h-1zM1665 759h1v2h-1zM1675 759h1v2h-1zM1676 761h1v2h-1zM1677 763h1v3h-1zM1678 766h1v2h-1zM1679 768h1v2h-1zM1680 770h1v2h-1zM1681 772h1v2h-1zM1682 774h1v2h-1zM1693 777h1v2h-1zM1695 775h1v2h-1zM1696 777h1v2h-1zM1697 779h1v2h-1zM1698 781h1v2h-1zM1700 781h1v2h-1zM1701 779h1v2h-1zM1702 777h1v2h-1zM1703 775h1v2h-1zM1704 773h1v2h-1zM1705 770h1v3h-1zM1706 768h1v2h-1zM1707 766h1v2h-1zM1709 763h1v2h-1zM1711 761h1v3h-1zM1712 764h1v4h-1zM1713 768h1v4h-1zM1714 772h1v4h-1zM1715 776h1v3h-1zM1716 776h1v2h-1zM1718 773h1v2h-1zM1719 772h1v2h-1zM1720 774h1v2h-1zM1721 776h1v2h-1zM1722 778h1v2h-1zM1723 780h1v2h-1zM1729 782h1v2h-1zM1740 780h1v2h-1zM1741 778h1v2h-1zM1742 776h1v2h-1zM1755 778h1v2h-1zM1756 780h1v2h-1zM1757 782h1v2h-1zM1758 784h1v2h-1zM1759 786h1v2h-1zM1761 789h1v2h-1zM1763 792h1v2h-1zM1764 794h1v3h-1zM1765 797h1v2h-1zM1766 799h1v3h-1zM1767 802h1v2h-1zM1769 800h1v2h-1zM1771 797h1v2h-1zM1772 795h1v2h-1zM1773 792h1v3h-1zM1774 790h1v2h-1zM1775 788h1v2h-1zM1783 785h1v2h-1zM1784 781h1v4h-1zM1785 778h1v3h-1zM1786 774h1v4h-1zM1787 772h1v2h-1zM887 726h2v1h-2zM14 727h1v1h-1zM886 727h1v1h-1zM889 727h2v1h-2zM894 727h1v1h-1zM13 728h1v1h-1zM885 728h1v1h-1zM891 728h3v1h-3zM12 729h1v1h-1zM884 729h1v1h-1zM7 730h5v1h-5zM883 730h1v1h-1zM5 731h2v1h-2zM881 731h2v1h-2zM3 732h2v1h-2zM880 732h1v1h-1zM900 737h1v1h-1zM901 738h2v1h-2zM903 739h1v1h-1zM905 742h1v1h-1zM935 744h1v1h-1zM907 745h8v1h-8zM33 747h2v1h-2zM937 747h1v1h-1zM1011 747h1v1h-1zM32 748h1v1h-1zM1012 748h1v1h-1zM930 751h2v1h-2zM1014 751h1v1h-1zM927 752h3v1h-3zM1015 752h1v1h-1zM1025 752h2v1h-2zM1023 753h2v1h-2zM1051 755h1v1h-1zM1021 756h1v1h-1zM1050 756h1v1h-1zM1048 757h2v1h-2zM1663 757h1v1h-1zM1634 758h1v1h-1zM1664 758h1v1h-1zM920 759h4v1h-4zM1019 759h1v1h-1zM1674 759h1v1h-1zM1671 760h3v1h-3zM1058 761h2v1h-2zM1067 761h3v1h-3zM1632 761h1v1h-1zM1666 761h1v1h-1zM1669 761h2v1h-2zM65 762h2v1h-2zM1055 762h3v1h-3zM1060 762h1v1h-1zM1066 762h1v1h-1zM1070 762h1v1h-1zM1631 762h1v1h-1zM1667 762h2v1h-2zM1710 762h1v1h-1zM59 763h6v1h-6zM838 763h1v1h-1zM1629 763h2v1h-2zM447 764h2v1h-2zM837 764h1v1h-1zM1627 764h2v1h-2zM446 765h1v1h-1zM449 765h2v1h-2zM454 765h1v1h-1zM836 765h1v1h-1zM1002 765h1v1h-1zM1062 765h1v1h-1zM1064 765h1v1h-1zM1708 765h1v1h-1zM43 766h1v1h-1zM51 766h1v1h-1zM57 766h1v1h-1zM445 766h1v1h-1zM451 766h3v1h-3zM835 766h1v1h-1zM850 766h1v1h-1zM999 766h3v1h-3zM1063 766h1v1h-1zM44 767h2v1h-2zM50 767h1v1h-1zM52 767h2v1h-2zM444 767h1v1h-1zM833 767h2v1h-2zM847 767h3v1h-3zM945 767h1v1h-1zM46 768h1v1h-1zM48 768h2v1h-2zM54 768h1v1h-1zM443 768h1v1h-1zM832 768h1v1h-1zM846 768h1v1h-1zM951 768h5v1h-5zM47 769h1v1h-1zM55 769h1v1h-1zM107 769h3v1h-3zM278 769h1v1h-1zM441 769h2v1h-2zM949 769h2v1h-2zM956 769h2v1h-2zM1034 769h1v1h-1zM1475 769h1v1h-1zM1619 769h1v1h-1zM92 770h1v1h-1zM106 770h1v1h-1zM110 770h2v1h-2zM439 770h2v1h-2zM947 770h2v1h-2zM958 770h1v1h-1zM1032 770h2v1h-2zM1463 770h1v1h-1zM1620 770h2v1h-2zM105 771h1v1h-1zM112 771h1v1h-1zM844 771h1v1h-1zM959 771h2v1h-2zM966 771h1v1h-1zM1462 771h1v1h-1zM1622 771h1v1h-1zM104 772h1v1h-1zM276 772h1v1h-1zM480 772h1v1h-1zM961 772h2v1h-2zM964 772h2v1h-2zM1460 772h2v1h-2zM94 773h1v1h-1zM103 773h1v1h-1zM275 773h1v1h-1zM437 773h1v1h-1zM459 773h1v1h-1zM486 773h1v1h-1zM963 773h1v1h-1zM995 773h1v1h-1zM1492 773h1v1h-1zM1599 773h1v1h-1zM95 774h2v1h-2zM102 774h1v1h-1zM114 774h1v1h-1zM273 774h2v1h-2zM332 774h1v1h-1zM460 774h2v1h-2zM485 774h1v1h-1zM499 774h1v1h-1zM1493 774h1v1h-1zM1607 774h1v1h-1zM1643 774h1v1h-1zM1650 774h1v1h-1zM1746 774h3v1h-3zM97 775h2v1h-2zM100 775h2v1h-2zM223 775h1v1h-1zM271 775h2v1h-2zM333 775h2v1h-2zM462 775h1v1h-1zM482 775h1v1h-1zM484 775h1v1h-1zM498 775h1v1h-1zM500 775h2v1h-2zM1494 775h1v1h-1zM1606 775h1v1h-1zM1608 775h1v1h-1zM1644 775h1v1h-1zM1717 775h1v1h-1zM1743 775h3v1h-3zM1749 775h2v1h-2zM99 776h1v1h-1zM222 776h1v1h-1zM270 776h1v1h-1zM335 776h2v1h-2zM463 776h1v1h-1zM483 776h1v1h-1zM496 776h2v1h-2zM502 776h1v1h-1zM1076 776h1v1h-1zM1470 776h2v1h-2zM1479 776h2v1h-2zM1495 776h1v1h-1zM1601 776h1v1h-1zM1645 776h1v1h-1zM1683 776h1v1h-1zM1694 776h1v1h-1zM1751 776h2v1h-2zM221 777h1v1h-1zM311 777h1v1h-1zM337 777h2v1h-2zM345 777h2v1h-2zM464 777h2v1h-2zM495 777h1v1h-1zM503 777h1v1h-1zM819 777h1v1h-1zM979 777h2v1h-2zM1467 777h3v1h-3zM1481 777h2v1h-2zM1646 777h1v1h-1zM1648 777h1v1h-1zM1684 777h1v1h-1zM1753 777h2v1h-2zM123 778h3v1h-3zM220 778h1v1h-1zM339 778h6v1h-6zM420 778h4v1h-4zM466 778h1v1h-1zM494 778h1v1h-1zM683 778h1v1h-1zM820 778h1v1h-1zM981 778h2v1h-2zM1101 778h1v1h-1zM1483 778h1v1h-1zM1593 778h1v1h-1zM1604 778h1v1h-1zM1610 778h1v1h-1zM1613 778h2v1h-2zM1647 778h1v1h-1zM1685 778h1v1h-1zM126 779h1v1h-1zM219 779h1v1h-1zM264 779h2v1h-2zM268 779h1v1h-1zM291 779h2v1h-2zM424 779h1v1h-1zM492 779h2v1h-2zM682 779h1v1h-1zM684 779h1v1h-1zM1078 779h1v1h-1zM1086 779h2v1h-2zM1484 779h1v1h-1zM1497 779h1v1h-1zM1603 779h1v1h-1zM1611 779h2v1h-2zM1686 779h1v1h-1zM1692 779h1v1h-1zM266 780h2v1h-2zM290 780h1v1h-1zM293 780h2v1h-2zM298 780h4v1h-4zM425 780h1v1h-1zM491 780h1v1h-1zM510 780h1v1h-1zM680 780h2v1h-2zM685 780h1v1h-1zM817 780h1v1h-1zM826 780h1v1h-1zM991 780h1v1h-1zM1079 780h7v1h-7zM1432 780h2v1h-2zM1485 780h1v1h-1zM1531 780h1v1h-1zM1687 780h5v1h-5zM1726 780h2v1h-2zM77 781h1v1h-1zM295 781h3v1h-3zM302 781h2v1h-2zM426 781h1v1h-1zM670 781h4v1h-4zM678 781h2v1h-2zM686 781h1v1h-1zM810 781h3v1h-3zM822 781h1v1h-1zM824 781h2v1h-2zM864 781h1v1h-1zM972 781h1v1h-1zM1103 781h1v1h-1zM1434 781h1v1h-1zM1486 781h1v1h-1zM1532 781h2v1h-2zM1724 781h2v1h-2zM1728 781h1v1h-1zM227 782h1v1h-1zM304 782h2v1h-2zM427 782h1v1h-1zM668 782h2v1h-2zM674 782h4v1h-4zM687 782h1v1h-1zM729 782h1v1h-1zM807 782h3v1h-3zM813 782h2v1h-2zM823 782h1v1h-1zM865 782h2v1h-2zM870 782h2v1h-2zM1104 782h2v1h-2zM1353 782h1v1h-1zM1435 782h6v1h-6zM1451 782h2v1h-2zM1534 782h1v1h-1zM1580 782h4v1h-4zM1735 782h5v1h-5zM228 783h1v1h-1zM288 783h1v1h-1zM306 783h1v1h-1zM428 783h1v1h-1zM508 783h1v1h-1zM688 783h1v1h-1zM806 783h1v1h-1zM815 783h1v1h-1zM867 783h3v1h-3zM872 783h1v1h-1zM1106 783h1v1h-1zM1441 783h2v1h-2zM1450 783h1v1h-1zM1453 783h2v1h-2zM1562 783h4v1h-4zM1584 783h2v1h-2zM1699 783h1v1h-1zM1734 783h1v1h-1zM79 784h1v1h-1zM235 784h1v1h-1zM255 784h1v1h-1zM287 784h1v1h-1zM307 784h1v1h-1zM315 784h2v1h-2zM507 784h1v1h-1zM657 784h1v1h-1zM804 784h2v1h-2zM873 784h1v1h-1zM974 784h1v1h-1zM1443 784h2v1h-2zM1449 784h1v1h-1zM1558 784h4v1h-4zM1566 784h1v1h-1zM1586 784h1v1h-1zM1730 784h1v1h-1zM1732 784h2v1h-2zM80 785h1v1h-1zM234 785h1v1h-1zM253 785h2v1h-2zM256 785h1v1h-1zM317 785h2v1h-2zM802 785h2v1h-2zM874 785h1v1h-1zM1312 785h4v1h-4zM1351 785h1v1h-1zM1445 785h2v1h-2zM1448 785h1v1h-1zM1551 785h7v1h-7zM1731 785h1v1h-1zM86 786h1v1h-1zM230 786h1v1h-1zM232 786h2v1h-2zM251 786h2v1h-2zM257 786h1v1h-1zM430 786h1v1h-1zM690 786h1v1h-1zM748 786h1v1h-1zM800 786h2v1h-2zM1091 786h4v1h-4zM1316 786h2v1h-2zM1350 786h1v1h-1zM1447 786h1v1h-1zM1524 786h1v1h-1zM1782 786h1v1h-1zM85 787h1v1h-1zM231 787h1v1h-1zM237 787h1v1h-1zM258 787h1v1h-1zM691 787h3v1h-3zM749 787h2v1h-2zM1115 787h3v1h-3zM1318 787h1v1h-1zM1348 787h2v1h-2zM1525 787h2v1h-2zM1778 787h4v1h-4zM82 788h1v1h-1zM84 788h1v1h-1zM214 788h1v1h-1zM549 788h1v1h-1zM694 788h1v1h-1zM1118 788h1v1h-1zM1319 788h3v1h-3zM1347 788h1v1h-1zM1760 788h1v1h-1zM1776 788h2v1h-2zM83 789h1v1h-1zM352 789h1v1h-1zM399 789h1v1h-1zM1322 789h2v1h-2zM1515 789h1v1h-1zM353 790h1v1h-1zM400 790h1v1h-1zM524 790h1v1h-1zM711 790h1v1h-1zM1324 790h1v1h-1zM212 791h1v1h-1zM354 791h1v1h-1zM401 791h1v1h-1zM712 791h1v1h-1zM1325 791h1v1h-1zM1424 791h1v1h-1zM1507 791h1v1h-1zM1762 791h1v1h-1zM211 792h1v1h-1zM402 792h1v1h-1zM713 792h1v1h-1zM1326 792h1v1h-1zM1506 792h1v1h-1zM1508 792h1v1h-1zM1517 792h1v1h-1zM1547 792h1v1h-1zM391 793h1v1h-1zM403 793h5v1h-5zM526 793h1v1h-1zM714 793h1v1h-1zM792 793h1v1h-1zM1505 793h1v1h-1zM1546 793h1v1h-1zM392 794h2v1h-2zM408 794h2v1h-2zM611 794h1v1h-1zM715 794h1v1h-1zM793 794h1v1h-1zM1340 794h1v1h-1zM1426 794h1v1h-1zM1504 794h1v1h-1zM209 795h1v1h-1zM371 795h2v1h-2zM394 795h1v1h-1zM410 795h1v1h-1zM642 795h5v1h-5zM716 795h1v1h-1zM794 795h1v1h-1zM1341 795h2v1h-2zM1510 795h1v1h-1zM1573 795h1v1h-1zM151 796h1v1h-1zM167 796h5v1h-5zM370 796h1v1h-1zM373 796h2v1h-2zM395 796h1v1h-1zM516 796h2v1h-2zM639 796h3v1h-3zM1511 796h1v1h-1zM1540 796h2v1h-2zM1544 796h1v1h-1zM152 797h2v1h-2zM159 797h1v1h-1zM166 797h1v1h-1zM172 797h1v1h-1zM518 797h1v1h-1zM707 797h1v1h-1zM1542 797h2v1h-2zM154 798h1v1h-1zM157 798h2v1h-2zM160 798h1v1h-1zM207 798h1v1h-1zM385 798h1v1h-1zM718 798h1v1h-1zM1375 798h1v1h-1zM149 799h1v1h-1zM155 799h2v1h-2zM161 799h1v1h-1zM206 799h1v1h-1zM368 799h1v1h-1zM1374 799h1v1h-1zM1770 799h1v1h-1zM162 800h1v1h-1zM164 800h1v1h-1zM174 800h1v1h-1zM205 800h1v1h-1zM535 800h2v1h-2zM1373 800h1v1h-1zM163 801h1v1h-1zM175 801h1v1h-1zM204 801h1v1h-1zM534 801h1v1h-1zM537 801h2v1h-2zM596 801h2v1h-2zM607 801h1v1h-1zM615 801h1v1h-1zM1208 801h2v1h-2zM1372 801h1v1h-1zM1377 801h1v1h-1zM176 802h1v1h-1zM532 802h2v1h-2zM539 802h1v1h-1zM598 802h2v1h-2zM616 802h2v1h-2zM1183 802h1v1h-1zM1210 802h2v1h-2zM1332 802h2v1h-2zM1371 802h1v1h-1zM1768 802h1v1h-1zM618 803h1v1h-1zM635 803h1v1h-1zM783 803h1v1h-1zM1334 803h1v1h-1zM1370 803h1v1h-1zM619 804h3v1h-3zM634 804h1v1h-1zM784 804h1v1h-1zM1369 804h1v1h-1zM1379 804h3v1h-3zM178 805h1v1h-1zM622 805h2v1h-2zM632 805h2v1h-2zM785 805h1v1h-1zM1185 805h1v1h-1zM1213 805h1v1h-1zM1360 805h1v1h-1zM1368 805h1v1h-1zM1382 805h4v1h-4zM1399 805h5v1h-5zM179 806h1v1h-1zM624 806h1v1h-1zM631 806h1v1h-1zM756 806h3v1h-3zM786 806h1v1h-1zM1367 806h1v1h-1zM1386 806h2v1h-2zM1398 806h1v1h-1zM1404 806h2v1h-2zM139 807h1v1h-1zM180 807h2v1h-2zM556 807h1v1h-1zM625 807h1v1h-1zM630 807h1v1h-1zM1366 807h1v1h-1zM1388 807h1v1h-1zM1397 807h1v1h-1zM1406 807h1v1h-1zM137 808h2v1h-2zM140 808h1v1h-1zM182 808h1v1h-1zM557 808h1v1h-1zM626 808h1v1h-1zM628 808h2v1h-2zM1187 808h1v1h-1zM1362 808h1v1h-1zM1364 808h2v1h-2zM1396 808h1v1h-1zM1407 808h2v1h-2zM136 809h1v1h-1zM183 809h1v1h-1zM558 809h1v1h-1zM627 809h1v1h-1zM1179 809h1v1h-1zM1363 809h1v1h-1zM1395 809h1v1h-1zM1409 809h2v1h-2zM184 810h1v1h-1zM559 810h1v1h-1zM779 810h1v1h-1zM1178 810h1v1h-1zM1390 810h1v1h-1zM1393 810h2v1h-2zM1411 810h1v1h-1zM142 811h1v1h-1zM191 811h1v1h-1zM771 811h3v1h-3zM777 811h2v1h-2zM1170 811h2v1h-2zM1391 811h2v1h-2zM190 812h1v1h-1zM192 812h1v1h-1zM774 812h3v1h-3zM1167 812h3v1h-3zM1172 812h2v1h-2zM1259 812h1v1h-1zM186 813h1v1h-1zM188 813h2v1h-2zM193 813h1v1h-1zM1174 813h1v1h-1zM1176 813h1v1h-1zM1258 813h1v1h-1zM1260 813h2v1h-2zM1413 813h1v1h-1zM187 814h1v1h-1zM194 814h1v1h-1zM566 814h1v1h-1zM583 814h1v1h-1zM590 814h1v1h-1zM1175 814h1v1h-1zM1256 814h2v1h-2zM1262 814h1v1h-1zM195 815h1v1h-1zM565 815h1v1h-1zM581 815h2v1h-2zM584 815h1v1h-1zM1191 815h1v1h-1zM1255 815h1v1h-1zM1263 815h1v1h-1zM564 816h1v1h-1zM580 816h1v1h-1zM585 816h1v1h-1zM1264 816h1v1h-1zM1415 816h1v1h-1zM563 817h1v1h-1zM586 817h1v1h-1zM588 817h1v1h-1zM764 817h1v1h-1zM1265 817h1v1h-1zM1416 817h2v1h-2zM587 818h1v1h-1zM765 818h2v1h-2zM1155 818h3v1h-3zM1193 818h1v1h-1zM1266 818h1v1h-1zM1418 818h1v1h-1zM1154 819h1v1h-1zM1158 819h6v1h-6zM1220 819h2v1h-2zM1152 820h2v1h-2zM1222 820h1v1h-1zM1295 820h2v1h-2zM1150 821h2v1h-2zM1195 821h3v1h-3zM1248 821h2v1h-2zM1294 821h1v1h-1zM1297 821h2v1h-2zM1147 822h3v1h-3zM1198 822h5v1h-5zM1250 822h1v1h-1zM1293 822h1v1h-1zM1299 822h1v1h-1zM1146 823h1v1h-1zM1232 823h1v1h-1zM1292 823h1v1h-1zM1144 824h2v1h-2zM1233 824h2v1h-2zM1291 824h1v1h-1zM1128 825h2v1h-2zM1143 825h1v1h-1zM1235 825h1v1h-1zM1290 825h1v1h-1zM1130 826h2v1h-2zM1236 826h1v1h-1zM1279 826h3v1h-3zM1289 826h1v1h-1zM1132 827h2v1h-2zM1237 827h1v1h-1zM1278 827h1v1h-1zM1282 827h4v1h-4zM1288 827h1v1h-1zM572 828h2v1h-2zM1134 828h1v1h-1zM1238 828h1v1h-1zM1276 828h2v1h-2zM1286 828h2v1h-2zM574 829h1v1h-1zM1135 829h1v1h-1zM1239 829h1v1h-1zM1136 830h2v1h-2zM1240 830h1v1h-1zM1138 831h1v1h-1zM1241 831h1v1h-1zM1139 832h1v1h-1zM1242 832h1v1h-1z" fill="#ff0000" shape-rendering="crispEdges"/>
<g shape-rendering="crispEdges" fill="none" stroke-width="1">
<line x1="3" y1="41.5" x2="1876" y2="41.5" stroke="#0000ff" stroke-dasharray="3 3"/>
<line x1="3" y1="148.5" x2="1876" y2="148.5" stroke="#0000ff" stroke-dasharray="3 3"/>
<line x1="3" y1="256.5" x2="1876" y2="256.5" stroke="#0000ff"/>
<line x1="3" y1="309.5" x2="1876" y2="309.5" stroke="#0000ff" stroke-dasharray="3 3"/>
<line x1="3" y1="417.5" x2="1876" y2="417.5" stroke="#0000ff" stroke-dasharray="3 3"/>
<line x1="3" y1="524.5" x2="1876" y2="524.5" stroke="#0000ff"/>
<line x1="3" y1="541.5" x2="1876" y2="541.5" stroke="#000"/>
<line x1="3" y1="631.5" x2="1876" y2="631.5" stroke="#ff0000" stroke-dasharray="3 3"/>
<line x1="3" y1="685.5" x2="1876" y2="685.5" stroke="#ff0000" stroke-dasharray="18 6"/>
<line x1="1215.5" y1="3" x2="1215.5" y2="688" stroke="#ff0000" stroke-dasharray="18 6"/>
<line x1="1215.5" y1="691" x2="1215.5" y2="870" stroke="#ff0000" stroke-dasharray="18 6"/>
</g>
<path d="M11 33h5v1h-5zM16 34h8v1h-8zM24 35h9v1h-9zM33 36h8v1h-8zM41 37h9v1h-9zM50 38h8v1h-8zM58 39h9v1h-9zM67 40h8v1h-8zM75 41h9v1h-9zM84 42h8v1h-8zM92 43h9v1h-9zM101 44h8v1h-8zM109 45h8v1h-8zM117 46h9v1h-9zM126 47h8v1h-8zM134 48h9v1h-9zM143 49h8v1h-8zM151 50h9v1h-9zM160 51h8v1h-8zM168 52h9v1h-9zM177 53h8v1h-8zM185 54h9v1h-9zM194 55h8v1h-8zM202 56h9v1h-9zM211 57h8v1h-8zM219 58h9v1h-9zM228 59h8v1h-8zM236 60h9v1h-9zM245 61h8v1h-8zM253 62h9v1h-9zM262 63h8v1h-8zM270 64h9v1h-9zM279 65h8v1h-8zM287 66h8v1h-8zM295 67h9v1h-9zM304 68h8v1h-8zM312 69h9v1h-9zM321 70h8v1h-8zM329 71h9v1h-9zM338 72h8v1h-8zM346 73h9v1h-9zM355 74h8v1h-8zM363 75h9v1h-9zM372 76h8v1h-8zM380 77h9v1h-9zM389 78h8v1h-8zM397 79h9v1h-9zM406 80h8v1h-8zM414 81h9v1h-9zM423 82h8v1h-8zM431 83h9v1h-9zM440 84h8v1h-8zM448 85h9v1h-9zM457 86h8v1h-8zM465 87h9v1h-9zM474 88h8v1h-8zM482 89h8v1h-8zM490 90h9v1h-9zM499 91h8v1h-8zM507 92h9v1h-9zM516 93h8v1h-8zM524 94h9v1h-9zM533 95h8v1h-8zM541 96h9v1h-9zM550 97h8v1h-8zM558 98h9v1h-9zM567 99h8v1h-8zM575 100h9v1h-9zM584 101h8v1h-8zM592 102h9v1h-9zM601 103h8v1h-8zM609 104h9v1h-9zM618 105h8v1h-8zM626 106h9v1h-9zM635 107h8v1h-8zM643 108h9v1h-9zM652 109h8v1h-8zM660 110h8v1h-8zM668 111h9v1h-9zM677 112h8v1h-8zM685 113h9v1h-9zM694 114h8v1h-8zM702 115h9v1h-9zM711 116h8v1h-8zM719 117h9v1h-9zM728 118h8v1h-8zM736 119h9v1h-9zM745 120h8v1h-8zM753 121h9v1h-9zM762 122h8v1h-8zM770 123h9v1h-9zM779 124h8v1h-8zM787 125h9v1h-9zM796 126h8v1h-8zM804 127h9v1h-9zM813 128h8v1h-8zM821 129h9v1h-9zM830 130h8v1h-8zM838 131h9v1h-9zM847 132h8v1h-8zM855 133h8v1h-8zM863 134h9v1h-9zM872 135h8v1h-8zM880 136h9v1h-9zM889 137h8v1h-8zM897 138h9v1h-9zM906 139h8v1h-8zM914 140h9v1h-9zM923 141h8v1h-8zM931 142h9v1h-9zM940 143h8v1h-8zM948 144h9v1h-9zM957 145h8v1h-8zM965 146h9v1h-9zM974 147h8v1h-8zM982 148h9v1h-9zM991 149h8v1h-8zM999 150h9v1h-9zM1008 151h8v1h-8zM1016 152h9v1h-9zM1025 153h8v1h-8zM1033 154h8v1h-8zM1041 155h9v1h-9zM1050 156h8v1h-8zM1058 157h9v1h-9zM1067 158h8v1h-8zM1075 159h9v1h-9zM1084 160h8v1h-8zM1092 161h9v1h-9zM1101 162h8v1h-8zM1109 163h9v1h-9zM1118 164h8v1h-8zM1126 165h9v1h-9zM1135 166h8v1h-8zM1143 167h9v1h-9zM1152 168h8v1h-8zM1160 169h9v1h-9zM1169 170h8v1h-8zM1177 171h9v1h-9zM1186 172h8v1h-8zM1194 173h9v1h-9zM1203 174h8v1h-8zM1211 175h9v1h-9zM1220 176h8v1h-8zM1228 177h8v1h-8zM1236 178h9v1h-9zM1245 179h8v1h-8zM1253 180h9v1h-9zM1262 181h8v1h-8zM1270 182h9v1h-9zM1279 183h8v1h-8zM1287 184h9v1h-9zM1296 185h8v1h-8zM1304 186h9v1h-9zM1313 187h8v1h-8zM1321 188h9v1h-9zM1330 189h8v1h-8zM1338 190h9v1h-9zM1347 191h8v1h-8zM1355 192h9v1h-9zM1364 193h8v1h-8zM1372 194h9v1h-9zM1381 195h8v1h-8zM1389 196h9v1h-9zM1398 197h8v1h-8zM1406 198h8v1h-8zM1414 199h9v1h-9zM1423 200h8v1h-8zM1431 201h9v1h-9zM1440 202h8v1h-8zM1448 203h9v1h-9zM1457 204h8v1h-8zM1465 205h9v1h-9zM1474 206h8v1h-8zM1482 207h9v1h-9zM1491 208h8v1h-8zM1499 209h9v1h-9zM1508 210h8v1h-8zM1516 211h9v1h-9zM1525 212h8v1h-8zM1533 213h9v1h-9zM1542 214h8v1h-8zM1550 215h9v1h-9zM1559 216h8v1h-8zM1567 217h9v1h-9zM1576 218h8v1h-8zM1584 219h9v1h-9zM1593 220h8v1h-8zM1601 221h8v1h-8zM1609 222h9v1h-9zM1618 223h8v1h-8zM1626 224h9v1h-9zM1635 225h8v1h-8zM1643 226h9v1h-9zM1652 227h8v1h-8zM1660 228h9v1h-9zM1669 229h8v1h-8zM1677 230h9v1h-9zM1686 231h8v1h-8zM1694 232h9v1h-9zM1703 233h8v1h-8zM1711 234h9v1h-9zM1720 235h8v1h-8zM1728 236h9v1h-9zM1737 237h8v1h-8zM1745 238h9v1h-9zM1754 239h8v1h-8zM1762 240h9v1h-9zM1771 241h8v1h-8zM1779 242h8v1h-8zM1787 243h9v1h-9zM1796 244h8v1h-8zM1804 245h9v1h-9zM1813 246h8v1h-8zM1821 247h9v1h-9zM1830 248h8v1h-8zM1838 249h9v1h-9zM1847 250h8v1h-8zM1855 251h9v1h-9zM1864 252h8v1h-8zM1872 253h5v1h-5z" fill="#ff0000" shape-rendering="crispEdges"/>
<text transform="translate(1882,21) scale(0.93,1)">68.90</text>
<text transform="translate(1882,54) scale(0.93,1)">67.65</text>
<text transform="translate(1882,87) scale(0.93,1)">66.45</text>
<text transform="translate(1882,120) scale(0.93,1)">65.20</text>
<text transform="translate(1882,154) scale(0.93,1)">63.95</text>
<text transform="translate(1882,187) scale(0.93,1)">62.70</text>
<text transform="translate(1882,221) scale(0.93,1)">61.45</text>
<text transform="translate(1882,254) scale(0.93,1)">60.20</text>
<text transform="translate(1882,288) scale(0.93,1)">58.95</text>
<text transform="translate(1882,321) scale(0.93,1)">57.70</text>
<text transform="translate(1882,355) scale(0.93,1)">56.45</text>
<text transform="translate(1882,388) scale(0.93,1)">55.20</text>
<text transform="translate(1882,422) scale(0.93,1)">53.95</text>
<text transform="translate(1882,455) scale(0.93,1)">52.70</text>
<text transform="translate(1882,488) scale(0.93,1)">51.50</text>
<text transform="translate(1882,521) scale(0.93,1)">50.25</text>
<text transform="translate(1882,555) scale(0.93,1)">49.00</text>
<text transform="translate(1882,588) scale(0.93,1)">47.75</text>
<text transform="translate(1882,622) scale(0.93,1)">46.50</text>
<text transform="translate(1882,655) scale(0.93,1)">45.25</text>
<text transform="translate(1879.5,701.0) scale(0.93,1)">100</text>
<text transform="translate(1879.5,749.0) scale(0.93,1)">70</text>
<text transform="translate(1879.5,820.0) scale(0.93,1)">30</text>
<text transform="translate(1879.5,867.0) scale(0.93,1)">0</text>
<rect x="1878" y="35" width="31" height="11" fill="#0000ff" shape-rendering="crispEdges"/>
<text class="w" transform="translate(1882.2,44.2) scale(0.93,1)">68.00</text>
<rect x="1878" y="142" width="31" height="11" fill="#0000ff" shape-rendering="crispEdges"/>
<text class="w" transform="translate(1882.2,151.2) scale(0.93,1)">64.00</text>
<rect x="1878" y="250" width="31" height="11" fill="#0000ff" shape-rendering="crispEdges"/>
<text class="w" transform="translate(1882.2,259.2) scale(0.93,1)">60.00</text>
<rect x="1878" y="303" width="31" height="11" fill="#0000ff" shape-rendering="crispEdges"/>
<text class="w" transform="translate(1882.2,312.2) scale(0.93,1)">58.00</text>
<rect x="1878" y="411" width="31" height="11" fill="#0000ff" shape-rendering="crispEdges"/>
<text class="w" transform="translate(1882.2,420.2) scale(0.93,1)">54.00</text>
<rect x="1878" y="518" width="31" height="11" fill="#0000ff" shape-rendering="crispEdges"/>
<text class="w" transform="translate(1882.2,527.2) scale(0.93,1)">50.00</text>
<rect x="1878" y="536" width="31" height="11" fill="#000" shape-rendering="crispEdges"/>
<text class="w" transform="translate(1882.2,545.2) scale(0.93,1)">49.36</text>
<rect x="1878" y="576" width="31" height="11" fill="#000" shape-rendering="crispEdges"/>
<text class="w" transform="translate(1882.2,585.2) scale(0.93,1)">47.86</text>
<rect x="1878" y="625" width="31" height="11" fill="#ff0000" shape-rendering="crispEdges"/>
<text class="w" transform="translate(1882.2,634.2) scale(0.93,1)">46.00</text>
<rect x="1878" y="679" width="31" height="11" fill="#ff0000" shape-rendering="crispEdges"/>
<text class="w" transform="translate(1882.2,688.2) scale(0.93,1)">44.00</text>
<text transform="translate(2.5,883) scale(0.93,1)">17 Aug 2020</text>
<text transform="translate(66.5,883) scale(0.93,1)">18 Aug 13:00</text>
<text transform="translate(130.5,883) scale(0.93,1)">19 Aug 05:00</text>
<text transform="translate(194.5,883) scale(0.93,1)">19 Aug 21:00</text>
<text transform="translate(258.5,883) scale(0.93,1)">20 Aug 13:00</text>
<text transform="translate(322.5,883) scale(0.93,1)">21 Aug 05:00</text>
<text transform="translate(386.5,883) scale(0.93,1)">21 Aug 21:00</text>
<text transform="translate(450.5,883) scale(0.93,1)">24 Aug 13:00</text>
<text transform="translate(514.5,883) scale(0.93,1)">25 Aug 05:00</text>
<text transform="translate(578.5,883) scale(0.93,1)">25 Aug 21:00</text>
<text transform="translate(642.5,883) scale(0.93,1)">26 Aug 13:00</text>
<text transform="translate(706.5,883) scale(0.93,1)">27 Aug 05:00</text>
<text transform="translate(770.5,883) scale(0.93,1)">27 Aug 21:00</text>
<text transform="translate(834.5,883) scale(0.93,1)">28 Aug 13:00</text>
<text transform="translate(898.5,883) scale(0.93,1)">31 Aug 05:00</text>
<text transform="translate(962.5,883) scale(0.93,1)">31 Aug 21:00</text>
<text transform="translate(1026.5,883) scale(0.93,1)">1 Sep 13:00</text>
<text transform="translate(1090.5,883) scale(0.93,1)">2 Sep 05:00</text>
<text transform="translate(1154.5,883) scale(0.93,1)">2 Sep 21:00</text>
<text transform="translate(1218.5,883) scale(0.93,1)">3 Sep 13:00</text>
<text transform="translate(1282.5,883) scale(0.93,1)">4 Sep 05:00</text>
<text transform="translate(1346.5,883) scale(0.93,1)">4 Sep 21:00</text>
<text transform="translate(1410.5,883) scale(0.93,1)">7 Sep 13:00</text>
<text transform="translate(1474.5,883) scale(0.93,1)">8 Sep 05:00</text>
<text transform="translate(1538.5,883) scale(0.93,1)">8 Sep 21:00</text>
<text transform="translate(1602.5,883) scale(0.93,1)">9 Sep 13:00</text>
<text transform="translate(1666.5,883) scale(0.93,1)">10 Sep 05:00</text>
<text transform="translate(1730.5,883) scale(0.93,1)">10 Sep 21:00</text>
<rect x="1175" y="874" width="80" height="11" fill="#ff0000" shape-rendering="crispEdges"/>
<text class="w" transform="translate(1179,883) scale(0.93,1)">2020.09.03 12:00</text>
<path d="M6 9h7v1h-7zM7 10h5v1h-5zM8 11h3v1h-3zM9 12h1v1h-1z" fill="#000" shape-rendering="crispEdges"/>
<text transform="translate(18,14) scale(0.93,1)">LTC,H1</text>
<text transform="translate(56,14) scale(0.93,1)">47.36 47.92 47.36 47.86</text>
<text transform="translate(8,703) scale(0.93,1)">RSI(14) 54.5308</text>
</svg></body></html>
